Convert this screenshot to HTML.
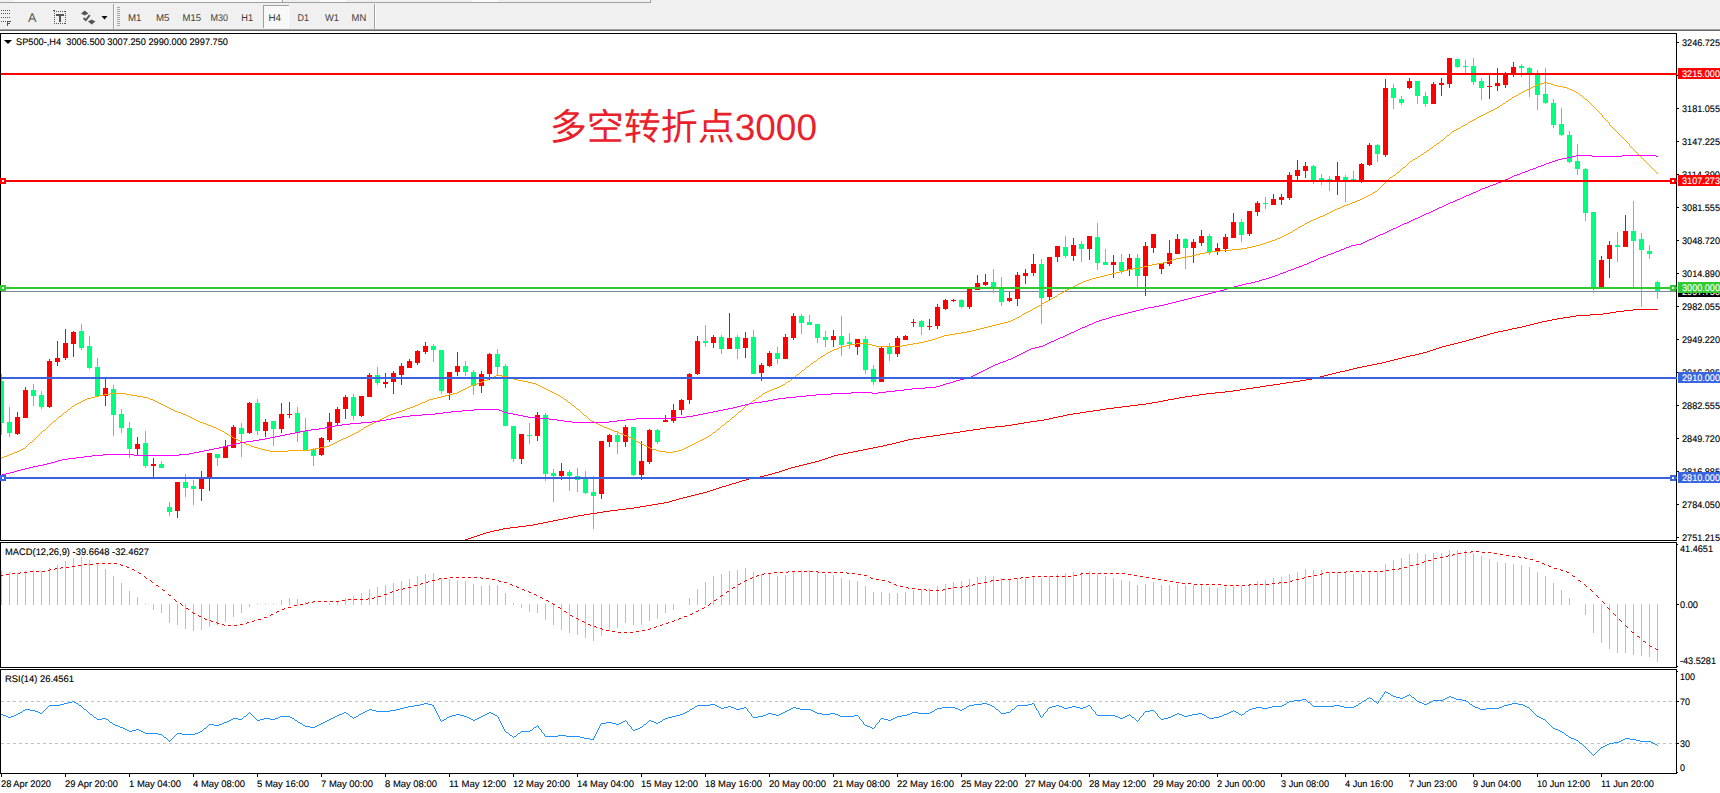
<!DOCTYPE html>
<html lang="zh"><head><meta charset="utf-8"><title>SP500-,H4</title>
<style>html,body{margin:0;padding:0;background:#fff}body{width:1720px;height:793px;overflow:hidden;position:relative}svg{position:absolute;left:0;top:0;display:block}text{font-family:"Liberation Sans","Noto Sans CJK SC",sans-serif;white-space:pre}.cj{font-family:"Liberation Sans","Noto Sans CJK SC",sans-serif}</style>
</head><body>
<svg width="1720" height="793" viewBox="0 0 1720 793" shape-rendering="crispEdges" text-rendering="geometricPrecision">
<rect x="0" y="0" width="1720" height="793" fill="#fff"/>
<rect x="0" y="0" width="1720" height="29" fill="#f0f0f0"/>
<rect x="0" y="29" width="1720" height="1" fill="#a0a0a0"/>
<rect x="0" y="30" width="1720" height="1" fill="#696969"/>
<rect x="0" y="31" width="1720" height="2" fill="#ffffff"/>
<rect x="0" y="2" width="650" height="1" fill="#a0a0a0"/>
<rect x="0" y="0" width="650" height="2" fill="#f0f0f0"/>
<rect x="13" y="0" width="269" height="2" fill="#f9f9f9"/>
<rect x="282" y="0" width="1" height="2" fill="#a0a0a0"/>
<rect x="320" y="0" width="26" height="2" fill="#fafafa"/>
<rect x="472" y="0" width="26" height="2" fill="#fafafa"/>
<rect x="650" y="0" width="1" height="3" fill="#a0a0a0"/>
<path d="M1 10h1v1h-1zM3 10h1v1h-1zM5 10h1v1h-1zM7 10h1v1h-1zM9 10h1v1h-1zM1 13h1v1h-1zM3 13h1v1h-1zM5 13h1v1h-1zM7 13h1v1h-1zM9 13h1v1h-1zM1 17h1v1h-1zM3 17h1v1h-1zM5 17h1v1h-1zM7 17h1v1h-1zM9 17h1v1h-1zM1 21h1v1h-1zM3 21h1v1h-1zM5 21h1v1h-1z" fill="#555555"/>
<path d="M7 21h4v1h-3v1h2v1h-2v2h-1z" fill="#555555"/>
<text x="27.9" y="22" font-size="12.6" fill="#555">A</text>
<path d="M54 11h1v1h-1zM54 23h1v1h-1zM56 11h1v1h-1zM56 23h1v1h-1zM58 11h1v1h-1zM58 23h1v1h-1zM60 11h1v1h-1zM60 23h1v1h-1zM62 11h1v1h-1zM62 23h1v1h-1zM64 11h1v1h-1zM64 23h1v1h-1zM54 13h1v1h-1zM65 13h1v1h-1zM54 15h1v1h-1zM65 15h1v1h-1zM54 17h1v1h-1zM65 17h1v1h-1zM54 19h1v1h-1zM65 19h1v1h-1zM54 21h1v1h-1zM65 21h1v1h-1zM65 11h1v1h-1zM65 23h1v1h-1z" fill="#555555"/>
<path d="M56 14h8v2h-3v6h-2v-6h-3z" fill="#555555"/>
<path d="M53 10h2v1h-2z" fill="#555555"/>
<path d="M81 13.5l3.7-3 3.7 3-3.7 2z M88 21.5l3.7-2 3.7 2-3.7 3z" fill="#555555" shape-rendering="auto"/>
<path d="M83.6 18l2.2 2.2 4-5" fill="none" stroke="#555555" stroke-width="1.9" shape-rendering="auto"/>
<path d="M101.5 16h6l-3 3.4z" fill="#000" shape-rendering="auto"/>
<rect x="113" y="4" width="1" height="25" fill="#a0a0a0"/>
<rect x="114" y="4" width="1" height="25" fill="#ffffff"/>
<rect x="374" y="4" width="1" height="25" fill="#a0a0a0"/>
<rect x="375" y="4" width="1" height="25" fill="#ffffff"/>
<path d="M117 7h3v1h-3zM117 9h3v1h-3zM117 11h3v1h-3zM117 13h3v1h-3zM117 15h3v1h-3zM117 17h3v1h-3zM117 19h3v1h-3zM117 21h3v1h-3zM117 23h3v1h-3zM117 25h3v1h-3z" fill="#a8a8a8"/>
<rect x="263" y="5" width="26" height="23" fill="#f8f8f8"/>
<rect x="263" y="5" width="26" height="1" fill="#a0a0a0"/>
<rect x="263" y="5" width="1" height="23" fill="#a0a0a0"/>
<rect x="288" y="6" width="1" height="22" fill="#ffffff"/>
<rect x="264" y="27" width="25" height="1" fill="#ffffff"/>
<text x="128" y="21.2" font-size="9.8" fill="#3c3c3c" textLength="13.5" lengthAdjust="spacingAndGlyphs">M1</text>
<text x="156" y="21.2" font-size="9.8" fill="#3c3c3c" textLength="13.5" lengthAdjust="spacingAndGlyphs">M5</text>
<text x="182.5" y="21.2" font-size="9.8" fill="#3c3c3c" textLength="18.5" lengthAdjust="spacingAndGlyphs">M15</text>
<text x="210.6" y="21.2" font-size="9.8" fill="#3c3c3c" textLength="17.5" lengthAdjust="spacingAndGlyphs">M30</text>
<text x="241.3" y="21.2" font-size="9.8" fill="#3c3c3c" textLength="11.8" lengthAdjust="spacingAndGlyphs">H1</text>
<text x="268.5" y="21.2" font-size="9.8" fill="#3c3c3c" textLength="12.5" lengthAdjust="spacingAndGlyphs">H4</text>
<text x="297.5" y="21.2" font-size="9.8" fill="#3c3c3c" textLength="11.5" lengthAdjust="spacingAndGlyphs">D1</text>
<text x="325" y="21.2" font-size="9.8" fill="#3c3c3c" textLength="14" lengthAdjust="spacingAndGlyphs">W1</text>
<text x="351.6" y="21.2" font-size="9.8" fill="#3c3c3c" textLength="14.7" lengthAdjust="spacingAndGlyphs">MN</text>
<rect x="0" y="33" width="1677" height="1" fill="#000"/>
<rect x="0" y="33" width="1" height="508" fill="#000"/>
<rect x="1676" y="33" width="1" height="508" fill="#000"/>
<rect x="0" y="540" width="1677" height="1" fill="#000"/>
<rect x="0" y="542" width="1677" height="1" fill="#000"/>
<rect x="0" y="542" width="1" height="126" fill="#000"/>
<rect x="1676" y="542" width="1" height="126" fill="#000"/>
<rect x="0" y="667" width="1677" height="1" fill="#000"/>
<rect x="0" y="669" width="1677" height="1" fill="#000"/>
<rect x="0" y="669" width="1" height="105" fill="#000"/>
<rect x="1676" y="669" width="1" height="105" fill="#000"/>
<rect x="0" y="773" width="1677" height="1" fill="#000"/>
<defs><clipPath id="cm"><rect x="1" y="34" width="1675" height="506"/></clipPath><clipPath id="cd"><rect x="1" y="543" width="1675" height="124"/></clipPath><clipPath id="cr"><rect x="1" y="670" width="1675" height="103"/></clipPath></defs>
<g clip-path="url(#cm)">
<rect x="1" y="291" width="1675" height="1" fill="#778899"/>
<path d="M1 374h1v61h-1zM-1 381h5v42h-5z" fill="#00ff7f"/>
<path d="M9 407h1v30h-1zM7 422h5v11h-5z" fill="#00ff7f"/>
<path d="M17 412h1v23h-1zM15 417h5v17h-5z" fill="#ff0000"/>
<path d="M25 387h1v31h-1zM23 390h5v28h-5z" fill="#ff0000"/>
<path d="M33 384h1v22h-1zM31 390h5v6h-5z" fill="#00ff7f"/>
<path d="M41 391h1v18h-1zM39 395h5v12h-5z" fill="#00ff7f"/>
<path d="M49 359h1v49h-1zM47 361h5v46h-5z" fill="#ff0000"/>
<path d="M57 341h1v25h-1zM55 358h5v4h-5z" fill="#ff0000"/>
<path d="M65 329h1v31h-1zM63 343h5v15h-5z" fill="#ff0000"/>
<path d="M73 331h1v26h-1zM71 332h5v12h-5z" fill="#ff0000"/>
<path d="M81 324h1v26h-1zM79 331h5v17h-5z" fill="#00ff7f"/>
<path d="M89 336h1v33h-1zM87 346h5v22h-5z" fill="#00ff7f"/>
<path d="M97 358h1v38h-1zM95 367h5v29h-5z" fill="#00ff7f"/>
<path d="M105 379h1v27h-1zM103 388h5v8h-5z" fill="#ff0000"/>
<path d="M113 385h1v51h-1zM111 389h5v26h-5z" fill="#00ff7f"/>
<path d="M121 409h1v24h-1zM119 414h5v14h-5z" fill="#00ff7f"/>
<path d="M129 422h1v36h-1zM127 428h5v21h-5z" fill="#00ff7f"/>
<path d="M137 437h1v19h-1zM135 444h5v5h-5z" fill="#ff0000"/>
<path d="M145 431h1v37h-1zM143 443h5v23h-5z" fill="#00ff7f"/>
<path d="M153 458h1v19h-1zM151 464h5v2h-5z" fill="#ff0000"/>
<path d="M161 461h1v7h-1zM159 464h5v4h-5z" fill="#00ff7f"/>
<path d="M169 502h1v14h-1zM167 507h5v5h-5z" fill="#00ff7f"/>
<path d="M177 482h1v36h-1zM175 482h5v29h-5z" fill="#ff0000"/>
<path d="M185 474h1v23h-1zM183 482h5v6h-5z" fill="#00ff7f"/>
<path d="M193 480h1v25h-1zM191 486h5v3h-5z" fill="#00ff7f"/>
<path d="M201 471h1v30h-1zM199 478h5v11h-5z" fill="#ff0000"/>
<path d="M209 453h1v38h-1zM207 453h5v25h-5z" fill="#ff0000"/>
<path d="M217 454h1v12h-1zM215 454h5v4h-5z" fill="#00ff7f"/>
<path d="M225 440h1v18h-1zM223 446h5v12h-5z" fill="#ff0000"/>
<path d="M233 425h1v23h-1zM231 427h5v21h-5z" fill="#ff0000"/>
<path d="M241 423h1v34h-1zM239 428h5v6h-5z" fill="#00ff7f"/>
<path d="M249 402h1v32h-1zM247 403h5v30h-5z" fill="#ff0000"/>
<path d="M257 399h1v36h-1zM255 403h5v28h-5z" fill="#00ff7f"/>
<path d="M265 419h1v18h-1zM263 422h5v9h-5z" fill="#ff0000"/>
<path d="M273 421h1v25h-1zM271 421h5v8h-5z" fill="#00ff7f"/>
<path d="M281 403h1v30h-1zM279 414h5v15h-5z" fill="#ff0000"/>
<path d="M289 402h1v16h-1zM287 414h5v1h-5z" fill="#ff0000"/>
<path d="M297 407h1v35h-1zM295 413h5v19h-5z" fill="#00ff7f"/>
<path d="M305 418h1v32h-1zM303 431h5v19h-5z" fill="#00ff7f"/>
<path d="M313 448h1v18h-1zM311 449h5v7h-5z" fill="#00ff7f"/>
<path d="M321 437h1v19h-1zM319 438h5v17h-5z" fill="#ff0000"/>
<path d="M329 413h1v29h-1zM327 422h5v18h-5z" fill="#ff0000"/>
<path d="M337 407h1v19h-1zM335 409h5v14h-5z" fill="#ff0000"/>
<path d="M345 395h1v24h-1zM343 397h5v12h-5z" fill="#ff0000"/>
<path d="M353 394h1v26h-1zM351 397h5v19h-5z" fill="#00ff7f"/>
<path d="M361 396h1v21h-1zM359 396h5v20h-5z" fill="#ff0000"/>
<path d="M369 373h1v24h-1zM367 375h5v22h-5z" fill="#ff0000"/>
<path d="M377 367h1v18h-1zM375 375h5v8h-5z" fill="#00ff7f"/>
<path d="M385 373h1v15h-1zM383 382h5v2h-5z" fill="#ff0000"/>
<path d="M393 371h1v23h-1zM391 373h5v9h-5z" fill="#ff0000"/>
<path d="M401 363h1v22h-1zM399 366h5v9h-5z" fill="#ff0000"/>
<path d="M409 359h1v9h-1zM407 361h5v7h-5z" fill="#ff0000"/>
<path d="M417 350h1v15h-1zM415 351h5v12h-5z" fill="#ff0000"/>
<path d="M425 342h1v12h-1zM423 346h5v6h-5z" fill="#ff0000"/>
<path d="M433 344h1v18h-1zM431 346h5v4h-5z" fill="#00ff7f"/>
<path d="M441 350h1v44h-1zM439 350h5v41h-5z" fill="#00ff7f"/>
<path d="M449 372h1v28h-1zM447 372h5v21h-5z" fill="#ff0000"/>
<path d="M457 352h1v24h-1zM455 366h5v6h-5z" fill="#ff0000"/>
<path d="M465 361h1v15h-1zM463 366h5v6h-5z" fill="#00ff7f"/>
<path d="M473 370h1v25h-1zM471 372h5v14h-5z" fill="#00ff7f"/>
<path d="M481 371h1v22h-1zM479 374h5v12h-5z" fill="#ff0000"/>
<path d="M489 353h1v27h-1zM487 354h5v20h-5z" fill="#ff0000"/>
<path d="M497 349h1v26h-1zM495 354h5v13h-5z" fill="#00ff7f"/>
<path d="M505 364h1v62h-1zM503 366h5v60h-5z" fill="#00ff7f"/>
<path d="M513 426h1v36h-1zM511 426h5v33h-5z" fill="#00ff7f"/>
<path d="M521 434h1v30h-1zM519 434h5v25h-5z" fill="#ff0000"/>
<path d="M529 423h1v21h-1zM527 435h5v1h-5z" fill="#00ff7f"/>
<path d="M537 412h1v29h-1zM535 415h5v21h-5z" fill="#ff0000"/>
<path d="M545 413h1v68h-1zM543 415h5v59h-5z" fill="#00ff7f"/>
<path d="M553 469h1v33h-1zM551 473h5v3h-5z" fill="#00ff7f"/>
<path d="M561 463h1v17h-1zM559 471h5v5h-5z" fill="#ff0000"/>
<path d="M569 470h1v21h-1zM567 472h5v4h-5z" fill="#00ff7f"/>
<path d="M577 468h1v24h-1zM575 476h5v4h-5z" fill="#00ff7f"/>
<path d="M585 471h1v23h-1zM583 478h5v15h-5z" fill="#00ff7f"/>
<path d="M593 476h1v53h-1zM591 492h5v4h-5z" fill="#00ff7f"/>
<path d="M601 441h1v58h-1zM599 441h5v53h-5z" fill="#ff0000"/>
<path d="M609 434h1v13h-1zM607 435h5v7h-5z" fill="#ff0000"/>
<path d="M617 431h1v23h-1zM615 435h5v7h-5z" fill="#00ff7f"/>
<path d="M625 425h1v22h-1zM623 427h5v15h-5z" fill="#ff0000"/>
<path d="M633 427h1v49h-1zM631 427h5v48h-5z" fill="#00ff7f"/>
<path d="M641 441h1v39h-1zM639 461h5v14h-5z" fill="#ff0000"/>
<path d="M649 429h1v35h-1zM647 430h5v32h-5z" fill="#ff0000"/>
<path d="M657 429h1v15h-1zM655 430h5v12h-5z" fill="#00ff7f"/>
<path d="M665 415h1v7h-1zM663 420h5v2h-5z" fill="#ff0000"/>
<path d="M673 404h1v19h-1zM671 410h5v11h-5z" fill="#ff0000"/>
<path d="M681 399h1v16h-1zM679 400h5v10h-5z" fill="#ff0000"/>
<path d="M689 373h1v31h-1zM687 374h5v26h-5z" fill="#ff0000"/>
<path d="M697 336h1v39h-1zM695 341h5v33h-5z" fill="#ff0000"/>
<path d="M705 325h1v22h-1zM703 341h5v2h-5z" fill="#00ff7f"/>
<path d="M713 335h1v13h-1zM711 337h5v6h-5z" fill="#ff0000"/>
<path d="M721 335h1v19h-1zM719 337h5v12h-5z" fill="#00ff7f"/>
<path d="M729 313h1v36h-1zM727 338h5v11h-5z" fill="#ff0000"/>
<path d="M737 335h1v24h-1zM735 337h5v12h-5z" fill="#00ff7f"/>
<path d="M745 332h1v26h-1zM743 338h5v10h-5z" fill="#ff0000"/>
<path d="M753 330h1v44h-1zM751 337h5v37h-5z" fill="#00ff7f"/>
<path d="M761 363h1v18h-1zM759 365h5v8h-5z" fill="#ff0000"/>
<path d="M769 351h1v16h-1zM767 353h5v13h-5z" fill="#ff0000"/>
<path d="M777 347h1v17h-1zM775 353h5v6h-5z" fill="#00ff7f"/>
<path d="M785 334h1v25h-1zM783 337h5v22h-5z" fill="#ff0000"/>
<path d="M793 313h1v27h-1zM791 316h5v22h-5z" fill="#ff0000"/>
<path d="M801 314h1v20h-1zM799 316h5v7h-5z" fill="#00ff7f"/>
<path d="M809 315h1v10h-1zM807 322h5v3h-5z" fill="#00ff7f"/>
<path d="M817 324h1v19h-1zM815 324h5v14h-5z" fill="#00ff7f"/>
<path d="M825 331h1v16h-1zM823 337h5v3h-5z" fill="#00ff7f"/>
<path d="M833 330h1v17h-1zM831 336h5v4h-5z" fill="#ff0000"/>
<path d="M841 316h1v40h-1zM839 336h5v9h-5z" fill="#00ff7f"/>
<path d="M849 333h1v16h-1zM847 342h5v2h-5z" fill="#00ff7f"/>
<path d="M857 339h1v16h-1zM855 339h5v8h-5z" fill="#ff0000"/>
<path d="M865 336h1v38h-1zM863 339h5v31h-5z" fill="#00ff7f"/>
<path d="M873 365h1v20h-1zM871 369h5v13h-5z" fill="#00ff7f"/>
<path d="M881 346h1v36h-1zM879 348h5v34h-5z" fill="#ff0000"/>
<path d="M889 343h1v18h-1zM887 346h5v8h-5z" fill="#00ff7f"/>
<path d="M897 336h1v21h-1zM895 338h5v16h-5z" fill="#ff0000"/>
<path d="M905 335h1v5h-1zM903 336h5v4h-5z" fill="#ff0000"/>
<path d="M913 319h1v8h-1zM911 322h5v1h-5z" fill="#ff0000"/>
<path d="M921 320h1v15h-1zM919 321h5v6h-5z" fill="#00ff7f"/>
<path d="M929 319h1v11h-1zM927 326h5v1h-5z" fill="#ff0000"/>
<path d="M937 304h1v25h-1zM935 307h5v19h-5z" fill="#ff0000"/>
<path d="M945 299h1v11h-1zM943 300h5v9h-5z" fill="#ff0000"/>
<path d="M953 299h1v3h-1zM951 300h5v1h-5z" fill="#ff0000"/>
<path d="M961 299h1v9h-1zM959 300h5v7h-5z" fill="#00ff7f"/>
<path d="M969 289h1v20h-1zM967 289h5v18h-5z" fill="#ff0000"/>
<path d="M977 275h1v15h-1zM975 283h5v7h-5z" fill="#ff0000"/>
<path d="M985 274h1v12h-1zM983 282h5v3h-5z" fill="#ff0000"/>
<path d="M993 269h1v24h-1zM991 282h5v6h-5z" fill="#00ff7f"/>
<path d="M1001 277h1v29h-1zM999 289h5v13h-5z" fill="#00ff7f"/>
<path d="M1009 292h1v10h-1zM1007 298h5v3h-5z" fill="#ff0000"/>
<path d="M1017 272h1v34h-1zM1015 275h5v24h-5z" fill="#ff0000"/>
<path d="M1025 269h1v15h-1zM1023 273h5v3h-5z" fill="#ff0000"/>
<path d="M1033 254h1v22h-1zM1031 264h5v9h-5z" fill="#ff0000"/>
<path d="M1041 259h1v65h-1zM1039 264h5v34h-5z" fill="#00ff7f"/>
<path d="M1049 257h1v43h-1zM1047 257h5v40h-5z" fill="#ff0000"/>
<path d="M1057 246h1v16h-1zM1055 246h5v11h-5z" fill="#ff0000"/>
<path d="M1065 236h1v22h-1zM1063 247h5v9h-5z" fill="#00ff7f"/>
<path d="M1073 238h1v23h-1zM1071 245h5v11h-5z" fill="#ff0000"/>
<path d="M1081 241h1v21h-1zM1079 244h5v5h-5z" fill="#00ff7f"/>
<path d="M1089 236h1v24h-1zM1087 236h5v13h-5z" fill="#ff0000"/>
<path d="M1097 223h1v47h-1zM1095 237h5v26h-5z" fill="#00ff7f"/>
<path d="M1105 249h1v16h-1zM1103 262h5v3h-5z" fill="#00ff7f"/>
<path d="M1113 255h1v23h-1zM1111 262h5v3h-5z" fill="#ff0000"/>
<path d="M1121 254h1v20h-1zM1119 262h5v9h-5z" fill="#00ff7f"/>
<path d="M1129 254h1v22h-1zM1127 258h5v12h-5z" fill="#ff0000"/>
<path d="M1137 254h1v34h-1zM1135 258h5v18h-5z" fill="#00ff7f"/>
<path d="M1145 242h1v54h-1zM1143 246h5v30h-5z" fill="#ff0000"/>
<path d="M1153 234h1v19h-1zM1151 234h5v14h-5z" fill="#ff0000"/>
<path d="M1161 263h1v11h-1zM1159 263h5v6h-5z" fill="#ff0000"/>
<path d="M1169 240h1v26h-1zM1167 253h5v11h-5z" fill="#ff0000"/>
<path d="M1177 234h1v20h-1zM1175 239h5v15h-5z" fill="#ff0000"/>
<path d="M1185 238h1v31h-1zM1183 239h5v9h-5z" fill="#00ff7f"/>
<path d="M1193 239h1v24h-1zM1191 242h5v6h-5z" fill="#ff0000"/>
<path d="M1201 230h1v16h-1zM1199 236h5v7h-5z" fill="#ff0000"/>
<path d="M1209 234h1v21h-1zM1207 236h5v16h-5z" fill="#00ff7f"/>
<path d="M1217 243h1v12h-1zM1215 248h5v3h-5z" fill="#ff0000"/>
<path d="M1225 234h1v18h-1zM1223 237h5v12h-5z" fill="#ff0000"/>
<path d="M1233 213h1v25h-1zM1231 222h5v16h-5z" fill="#ff0000"/>
<path d="M1241 219h1v23h-1zM1239 222h5v13h-5z" fill="#00ff7f"/>
<path d="M1249 211h1v25h-1zM1247 211h5v23h-5z" fill="#ff0000"/>
<path d="M1257 201h1v15h-1zM1255 203h5v9h-5z" fill="#ff0000"/>
<path d="M1265 197h1v12h-1zM1263 203h5v1h-5z" fill="#00ff7f"/>
<path d="M1273 194h1v11h-1zM1271 199h5v6h-5z" fill="#ff0000"/>
<path d="M1281 194h1v11h-1zM1279 197h5v3h-5z" fill="#ff0000"/>
<path d="M1289 172h1v28h-1zM1287 175h5v23h-5z" fill="#ff0000"/>
<path d="M1297 160h1v20h-1zM1295 170h5v6h-5z" fill="#ff0000"/>
<path d="M1305 162h1v16h-1zM1303 166h5v5h-5z" fill="#ff0000"/>
<path d="M1313 165h1v19h-1zM1311 166h5v14h-5z" fill="#00ff7f"/>
<path d="M1321 174h1v11h-1zM1319 178h5v2h-5z" fill="#00ff7f"/>
<path d="M1329 176h1v15h-1zM1327 179h5v1h-5z" fill="#00ff7f"/>
<path d="M1337 162h1v33h-1zM1335 176h5v5h-5z" fill="#ff0000"/>
<path d="M1345 175h1v27h-1zM1343 177h5v4h-5z" fill="#00ff7f"/>
<path d="M1353 171h1v10h-1zM1351 179h5v1h-5z" fill="#00ff7f"/>
<path d="M1361 163h1v20h-1zM1359 164h5v18h-5z" fill="#ff0000"/>
<path d="M1369 143h1v23h-1zM1367 145h5v20h-5z" fill="#ff0000"/>
<path d="M1377 144h1v18h-1zM1375 145h5v9h-5z" fill="#00ff7f"/>
<path d="M1385 79h1v78h-1zM1383 88h5v67h-5z" fill="#ff0000"/>
<path d="M1393 84h1v25h-1zM1391 88h5v10h-5z" fill="#00ff7f"/>
<path d="M1401 96h1v9h-1zM1399 99h5v4h-5z" fill="#00ff7f"/>
<path d="M1409 78h1v11h-1zM1407 81h5v7h-5z" fill="#ff0000"/>
<path d="M1417 81h1v23h-1zM1415 81h5v15h-5z" fill="#00ff7f"/>
<path d="M1425 92h1v15h-1zM1423 96h5v8h-5z" fill="#00ff7f"/>
<path d="M1433 82h1v22h-1zM1431 84h5v20h-5z" fill="#ff0000"/>
<path d="M1441 78h1v18h-1zM1439 83h5v2h-5z" fill="#ff0000"/>
<path d="M1449 58h1v30h-1zM1447 58h5v26h-5z" fill="#ff0000"/>
<path d="M1457 59h1v9h-1zM1455 59h5v8h-5z" fill="#00ff7f"/>
<path d="M1465 60h1v13h-1zM1463 66h5v1h-5z" fill="#00ff7f"/>
<path d="M1473 58h1v27h-1zM1471 66h5v16h-5z" fill="#00ff7f"/>
<path d="M1481 78h1v22h-1zM1479 81h5v7h-5z" fill="#00ff7f"/>
<path d="M1489 75h1v24h-1zM1487 86h5v1h-5z" fill="#ff0000"/>
<path d="M1497 68h1v23h-1zM1495 83h5v3h-5z" fill="#ff0000"/>
<path d="M1505 72h1v16h-1zM1503 73h5v12h-5z" fill="#ff0000"/>
<path d="M1513 62h1v15h-1zM1511 67h5v7h-5z" fill="#ff0000"/>
<path d="M1521 64h1v13h-1zM1519 66h5v2h-5z" fill="#00ff7f"/>
<path d="M1529 67h1v30h-1zM1527 68h5v5h-5z" fill="#00ff7f"/>
<path d="M1537 70h1v40h-1zM1535 75h5v20h-5z" fill="#00ff7f"/>
<path d="M1545 68h1v36h-1zM1543 94h5v9h-5z" fill="#00ff7f"/>
<path d="M1553 99h1v29h-1zM1551 103h5v22h-5z" fill="#00ff7f"/>
<path d="M1561 108h1v28h-1zM1559 124h5v11h-5z" fill="#00ff7f"/>
<path d="M1569 131h1v32h-1zM1567 135h5v27h-5z" fill="#00ff7f"/>
<path d="M1577 144h1v31h-1zM1575 161h5v8h-5z" fill="#00ff7f"/>
<path d="M1585 168h1v53h-1zM1583 169h5v44h-5z" fill="#00ff7f"/>
<path d="M1593 212h1v81h-1zM1591 212h5v76h-5z" fill="#00ff7f"/>
<path d="M1601 256h1v31h-1zM1599 260h5v27h-5z" fill="#ff0000"/>
<path d="M1609 241h1v37h-1zM1607 245h5v14h-5z" fill="#ff0000"/>
<path d="M1617 232h1v30h-1zM1615 245h5v2h-5z" fill="#00ff7f"/>
<path d="M1625 215h1v32h-1zM1623 231h5v16h-5z" fill="#ff0000"/>
<path d="M1633 201h1v86h-1zM1631 231h5v10h-5z" fill="#00ff7f"/>
<path d="M1641 233h1v74h-1zM1639 239h5v11h-5z" fill="#00ff7f"/>
<path d="M1649 245h1v14h-1zM1647 251h5v3h-5z" fill="#00ff7f"/>
<path d="M1657 281h1v18h-1zM1655 282h5v9h-5z" fill="#00ff7f"/>
<path d="M1544 82h3v1h-3zM1541 83h3v1h-3zM1547 83h4v1h-4zM1537 84h4v1h-4zM1551 84h3v1h-3zM1535 85h2v1h-2zM1554 85h4v1h-4zM1533 86h2v1h-2zM1558 86h5v1h-5zM1531 87h2v1h-2zM1563 87h4v1h-4zM1529 88h2v1h-2zM1567 88h2v1h-2zM1527 89h2v1h-2zM1569 89h3v1h-3zM1525 90h2v1h-2zM1572 90h2v1h-2zM1523 91h2v1h-2zM1574 91h2v1h-2zM1521 92h2v1h-2zM1576 92h2v1h-2zM1519 93h2v1h-2zM1516 95h2v1h-2zM1580 95h2v1h-2zM1514 96h2v1h-2zM1512 97h2v1h-2zM1509 99h2v1h-2zM1585 99h2v1h-2zM1506 101h2v1h-2zM1503 103h2v1h-2zM1500 105h2v1h-2zM1497 107h2v1h-2zM1495 108h2v1h-2zM1493 109h2v1h-2zM1491 110h2v1h-2zM1489 111h2v1h-2zM1487 112h2v1h-2zM1485 113h2v1h-2zM1483 114h2v1h-2zM1481 115h2v1h-2zM1479 116h2v1h-2zM1477 117h2v1h-2zM1474 119h2v1h-2zM1472 120h2v1h-2zM1470 121h2v1h-2zM1468 122h2v1h-2zM1465 124h2v1h-2zM1463 125h2v1h-2zM1461 126h2v1h-2zM1458 128h2v1h-2zM1456 129h2v1h-2zM1454 130h2v1h-2zM1452 131h2v1h-2zM1447 135h2v1h-2zM1441 140h2v1h-2zM1437 143h2v1h-2zM1434 145h2v1h-2zM1430 148h2v1h-2zM1427 150h2v1h-2zM1424 152h2v1h-2zM1421 154h2v1h-2zM1418 156h2v1h-2zM1415 158h2v1h-2zM1413 159h2v1h-2zM1410 161h2v1h-2zM1403 167h2v1h-2zM1397 172h2v1h-2zM1393 175h2v1h-2zM1390 177h2v1h-2zM1375 191h2v1h-2zM1373 192h2v1h-2zM1370 194h2v1h-2zM1368 195h2v1h-2zM1366 196h2v1h-2zM1364 197h2v1h-2zM1362 198h2v1h-2zM1360 199h2v1h-2zM1357 200h3v1h-3zM1355 201h2v1h-2zM1352 202h3v1h-3zM1350 203h2v1h-2zM1347 204h3v1h-3zM1344 205h3v1h-3zM1342 206h2v1h-2zM1340 207h2v1h-2zM1337 208h3v1h-3zM1335 209h2v1h-2zM1333 210h2v1h-2zM1331 211h2v1h-2zM1329 212h2v1h-2zM1327 213h2v1h-2zM1325 214h2v1h-2zM1323 215h2v1h-2zM1320 216h3v1h-3zM1318 217h2v1h-2zM1316 218h2v1h-2zM1313 219h3v1h-3zM1311 220h2v1h-2zM1309 221h2v1h-2zM1307 222h2v1h-2zM1305 223h2v1h-2zM1302 225h2v1h-2zM1300 226h2v1h-2zM1298 227h2v1h-2zM1295 229h2v1h-2zM1293 230h2v1h-2zM1290 232h2v1h-2zM1288 233h2v1h-2zM1286 234h2v1h-2zM1284 235h2v1h-2zM1282 236h2v1h-2zM1280 237h2v1h-2zM1277 238h3v1h-3zM1275 239h2v1h-2zM1272 240h3v1h-3zM1269 241h3v1h-3zM1266 242h3v1h-3zM1263 243h3v1h-3zM1260 244h3v1h-3zM1256 245h4v1h-4zM1252 246h4v1h-4zM1247 247h5v1h-5zM1241 248h6v1h-6zM1232 249h9v1h-9zM1220 250h12v1h-12zM1211 251h9v1h-9zM1205 252h6v1h-6zM1200 253h5v1h-5zM1196 254h4v1h-4zM1192 255h4v1h-4zM1187 256h5v1h-5zM1181 257h6v1h-6zM1176 258h5v1h-5zM1173 259h3v1h-3zM1170 260h3v1h-3zM1167 261h3v1h-3zM1163 262h4v1h-4zM1157 263h6v1h-6zM1152 264h5v1h-5zM1148 265h4v1h-4zM1144 266h4v1h-4zM1139 267h5v1h-5zM1133 268h6v1h-6zM1128 269h5v1h-5zM1124 270h4v1h-4zM1120 271h4v1h-4zM1116 272h4v1h-4zM1112 273h4v1h-4zM1108 274h4v1h-4zM1104 275h4v1h-4zM1100 276h4v1h-4zM1096 277h4v1h-4zM1092 278h4v1h-4zM1089 279h3v1h-3zM1086 280h3v1h-3zM1083 281h3v1h-3zM1081 282h2v1h-2zM1079 283h2v1h-2zM1077 284h2v1h-2zM1075 285h2v1h-2zM1073 286h2v1h-2zM1071 287h2v1h-2zM1069 288h2v1h-2zM1067 289h2v1h-2zM1065 290h2v1h-2zM1062 292h2v1h-2zM1060 293h2v1h-2zM1058 294h2v1h-2zM1055 296h2v1h-2zM1053 297h2v1h-2zM1051 298h2v1h-2zM1048 300h2v1h-2zM1046 301h2v1h-2zM1044 302h2v1h-2zM1042 303h2v1h-2zM1039 305h2v1h-2zM1037 306h2v1h-2zM1035 307h2v1h-2zM1033 308h2v1h-2zM1030 310h2v1h-2zM1028 311h2v1h-2zM1026 312h2v1h-2zM1024 313h2v1h-2zM1022 314h2v1h-2zM1019 316h2v1h-2zM1017 317h2v1h-2zM1015 318h2v1h-2zM1013 319h2v1h-2zM1011 320h2v1h-2zM1008 321h3v1h-3zM1004 322h4v1h-4zM1000 323h4v1h-4zM996 324h4v1h-4zM992 325h4v1h-4zM988 326h4v1h-4zM984 327h4v1h-4zM980 328h4v1h-4zM976 329h4v1h-4zM972 330h4v1h-4zM967 331h5v1h-5zM961 332h6v1h-6zM955 333h6v1h-6zM949 334h6v1h-6zM944 335h5v1h-5zM941 336h3v1h-3zM938 337h3v1h-3zM935 338h3v1h-3zM932 339h3v1h-3zM928 340h4v1h-4zM924 341h4v1h-4zM919 342h5v1h-5zM856 343h12v1h-12zM913 343h6v1h-6zM849 344h7v1h-7zM868 344h4v1h-4zM907 344h6v1h-6zM846 345h3v1h-3zM872 345h4v1h-4zM902 345h5v1h-5zM842 346h4v1h-4zM876 346h26v1h-26zM839 347h3v1h-3zM837 348h2v1h-2zM834 349h3v1h-3zM832 350h2v1h-2zM830 351h2v1h-2zM828 352h2v1h-2zM826 353h2v1h-2zM823 355h2v1h-2zM821 356h2v1h-2zM818 358h2v1h-2zM814 361h2v1h-2zM811 363h2v1h-2zM807 366h2v1h-2zM802 370h2v1h-2zM797 374h2v1h-2zM496 375h6v1h-6zM494 376h2v1h-2zM502 376h5v1h-5zM492 377h2v1h-2zM507 377h4v1h-4zM489 378h3v1h-3zM511 378h3v1h-3zM792 378h2v1h-2zM487 379h2v1h-2zM514 379h4v1h-4zM484 380h3v1h-3zM518 380h5v1h-5zM482 381h2v1h-2zM523 381h5v1h-5zM788 381h2v1h-2zM479 382h3v1h-3zM528 382h4v1h-4zM786 382h2v1h-2zM477 383h2v1h-2zM532 383h4v1h-4zM474 384h3v1h-3zM536 384h2v1h-2zM783 384h2v1h-2zM471 385h3v1h-3zM538 385h2v1h-2zM781 385h2v1h-2zM469 386h2v1h-2zM540 386h2v1h-2zM779 386h2v1h-2zM467 387h2v1h-2zM542 387h2v1h-2zM777 387h2v1h-2zM465 388h2v1h-2zM544 388h2v1h-2zM774 388h3v1h-3zM463 389h2v1h-2zM546 389h2v1h-2zM772 389h2v1h-2zM461 390h2v1h-2zM548 390h2v1h-2zM769 390h3v1h-3zM459 391h2v1h-2zM550 391h2v1h-2zM767 391h2v1h-2zM457 392h2v1h-2zM552 392h2v1h-2zM765 392h2v1h-2zM110 393h16v1h-16zM453 393h4v1h-4zM554 393h2v1h-2zM763 393h2v1h-2zM104 394h6v1h-6zM126 394h5v1h-5zM449 394h4v1h-4zM556 394h2v1h-2zM99 395h5v1h-5zM131 395h6v1h-6zM445 395h4v1h-4zM558 395h2v1h-2zM95 396h4v1h-4zM137 396h6v1h-6zM441 396h4v1h-4zM759 396h2v1h-2zM91 397h4v1h-4zM143 397h5v1h-5zM437 397h4v1h-4zM561 397h2v1h-2zM87 398h4v1h-4zM148 398h2v1h-2zM433 398h4v1h-4zM756 398h2v1h-2zM85 399h2v1h-2zM150 399h3v1h-3zM429 399h4v1h-4zM564 399h2v1h-2zM83 400h2v1h-2zM153 400h2v1h-2zM427 400h2v1h-2zM753 400h2v1h-2zM81 401h2v1h-2zM155 401h2v1h-2zM425 401h2v1h-2zM79 402h2v1h-2zM157 402h2v1h-2zM422 402h3v1h-3zM568 402h2v1h-2zM77 403h2v1h-2zM159 403h2v1h-2zM420 403h2v1h-2zM749 403h2v1h-2zM75 404h2v1h-2zM161 404h2v1h-2zM418 404h2v1h-2zM163 405h2v1h-2zM415 405h3v1h-3zM572 405h2v1h-2zM746 405h2v1h-2zM72 406h2v1h-2zM165 406h2v1h-2zM413 406h2v1h-2zM167 407h2v1h-2zM410 407h3v1h-3zM169 408h2v1h-2zM407 408h3v1h-3zM68 409h2v1h-2zM171 409h2v1h-2zM405 409h2v1h-2zM577 409h2v1h-2zM173 410h2v1h-2zM402 410h3v1h-3zM175 411h3v1h-3zM399 411h3v1h-3zM739 411h2v1h-2zM64 412h2v1h-2zM178 412h3v1h-3zM396 412h3v1h-3zM181 413h2v1h-2zM393 413h3v1h-3zM183 414h3v1h-3zM390 414h3v1h-3zM186 415h2v1h-2zM388 415h2v1h-2zM584 415h2v1h-2zM59 416h2v1h-2zM188 416h2v1h-2zM386 416h2v1h-2zM190 417h2v1h-2zM384 417h2v1h-2zM732 417h2v1h-2zM192 418h2v1h-2zM382 418h2v1h-2zM194 419h2v1h-2zM380 419h2v1h-2zM196 420h2v1h-2zM378 420h2v1h-2zM590 420h2v1h-2zM53 421h2v1h-2zM198 421h2v1h-2zM376 421h2v1h-2zM592 421h2v1h-2zM727 421h2v1h-2zM200 422h3v1h-3zM374 422h2v1h-2zM594 422h2v1h-2zM203 423h3v1h-3zM372 423h2v1h-2zM596 423h2v1h-2zM206 424h2v1h-2zM370 424h2v1h-2zM598 424h2v1h-2zM208 425h3v1h-3zM368 425h2v1h-2zM600 425h2v1h-2zM722 425h2v1h-2zM211 426h2v1h-2zM366 426h2v1h-2zM602 426h2v1h-2zM213 427h3v1h-3zM364 427h2v1h-2zM604 427h3v1h-3zM216 428h2v1h-2zM607 428h2v1h-2zM218 429h2v1h-2zM361 429h2v1h-2zM609 429h3v1h-3zM717 429h2v1h-2zM43 430h2v1h-2zM220 430h2v1h-2zM359 430h2v1h-2zM612 430h2v1h-2zM222 431h2v1h-2zM614 431h3v1h-3zM356 432h2v1h-2zM617 432h2v1h-2zM713 432h2v1h-2zM225 433h2v1h-2zM354 433h2v1h-2zM619 433h3v1h-3zM227 434h2v1h-2zM352 434h2v1h-2zM622 434h2v1h-2zM350 435h2v1h-2zM624 435h3v1h-3zM709 435h2v1h-2zM230 436h2v1h-2zM348 436h2v1h-2zM627 436h2v1h-2zM232 437h2v1h-2zM346 437h2v1h-2zM629 437h2v1h-2zM706 437h2v1h-2zM234 438h2v1h-2zM343 438h3v1h-3zM631 438h2v1h-2zM704 438h2v1h-2zM236 439h2v1h-2zM341 439h2v1h-2zM633 439h2v1h-2zM702 439h2v1h-2zM238 440h2v1h-2zM339 440h2v1h-2zM700 440h2v1h-2zM240 441h2v1h-2zM337 441h2v1h-2zM636 441h2v1h-2zM698 441h2v1h-2zM30 442h2v1h-2zM242 442h2v1h-2zM335 442h2v1h-2zM638 442h2v1h-2zM696 442h2v1h-2zM244 443h2v1h-2zM333 443h2v1h-2zM640 443h2v1h-2zM694 443h2v1h-2zM246 444h3v1h-3zM331 444h2v1h-2zM642 444h2v1h-2zM692 444h2v1h-2zM249 445h2v1h-2zM329 445h2v1h-2zM644 445h2v1h-2zM690 445h2v1h-2zM251 446h3v1h-3zM325 446h4v1h-4zM646 446h2v1h-2zM688 446h2v1h-2zM254 447h4v1h-4zM320 447h5v1h-5zM648 447h2v1h-2zM686 447h2v1h-2zM23 448h2v1h-2zM258 448h3v1h-3zM315 448h5v1h-5zM650 448h2v1h-2zM684 448h2v1h-2zM21 449h2v1h-2zM261 449h4v1h-4zM310 449h5v1h-5zM652 449h4v1h-4zM682 449h2v1h-2zM19 450h2v1h-2zM265 450h5v1h-5zM288 450h22v1h-22zM656 450h3v1h-3zM678 450h4v1h-4zM17 451h2v1h-2zM270 451h18v1h-18zM659 451h7v1h-7zM673 451h5v1h-5zM14 452h3v1h-3zM666 452h7v1h-7zM12 453h2v1h-2zM9 454h3v1h-3zM7 455h2v1h-2zM4 456h3v1h-3zM2 457h2v1h-2zM0 458h2v1h-2zM25 447h1v1h-1zM26 446h1v1h-1zM27 445h1v1h-1zM28 444h1v1h-1zM29 443h1v1h-1zM32 441h1v1h-1zM33 440h1v1h-1zM34 439h1v1h-1zM35 438h1v1h-1zM36 437h1v1h-1zM37 436h1v1h-1zM38 435h1v1h-1zM39 434h1v1h-1zM40 433h1v1h-1zM41 432h1v1h-1zM42 431h1v1h-1zM45 429h1v1h-1zM46 428h1v1h-1zM47 427h1v1h-1zM48 426h1v1h-1zM49 425h1v1h-1zM50 424h1v1h-1zM51 423h1v1h-1zM52 422h1v1h-1zM55 420h1v1h-1zM56 419h1v1h-1zM57 418h1v1h-1zM58 417h1v1h-1zM61 415h1v1h-1zM62 414h1v1h-1zM63 413h1v1h-1zM66 411h1v1h-1zM67 410h1v1h-1zM70 408h1v1h-1zM71 407h1v1h-1zM74 405h1v1h-1zM224 432h1v1h-1zM229 435h1v1h-1zM358 431h1v1h-1zM363 428h1v1h-1zM560 396h1v1h-1zM563 398h1v1h-1zM566 400h1v1h-1zM567 401h1v1h-1zM570 403h1v1h-1zM571 404h1v1h-1zM574 406h1v1h-1zM575 407h1v1h-1zM576 408h1v1h-1zM579 410h1v1h-1zM580 411h1v1h-1zM581 412h1v1h-1zM582 413h1v1h-1zM583 414h1v1h-1zM586 416h1v1h-1zM587 417h1v1h-1zM588 418h1v1h-1zM589 419h1v1h-1zM635 440h1v1h-1zM708 436h1v1h-1zM711 434h1v1h-1zM712 433h1v1h-1zM715 431h1v1h-1zM716 430h1v1h-1zM719 428h1v1h-1zM720 427h1v1h-1zM721 426h1v1h-1zM724 424h1v1h-1zM725 423h1v1h-1zM726 422h1v1h-1zM729 420h1v1h-1zM730 419h1v1h-1zM731 418h1v1h-1zM734 416h1v1h-1zM735 415h1v1h-1zM736 414h1v1h-1zM737 413h1v1h-1zM738 412h1v1h-1zM741 410h1v1h-1zM742 409h1v1h-1zM743 408h1v1h-1zM744 407h1v1h-1zM745 406h1v1h-1zM748 404h1v1h-1zM751 402h1v1h-1zM752 401h1v1h-1zM755 399h1v1h-1zM758 397h1v1h-1zM761 395h1v1h-1zM762 394h1v1h-1zM785 383h1v1h-1zM790 380h1v1h-1zM791 379h1v1h-1zM794 377h1v1h-1zM795 376h1v1h-1zM796 375h1v1h-1zM799 373h1v1h-1zM800 372h1v1h-1zM801 371h1v1h-1zM804 369h1v1h-1zM805 368h1v1h-1zM806 367h1v1h-1zM809 365h1v1h-1zM810 364h1v1h-1zM813 362h1v1h-1zM816 360h1v1h-1zM817 359h1v1h-1zM820 357h1v1h-1zM825 354h1v1h-1zM1021 315h1v1h-1zM1032 309h1v1h-1zM1041 304h1v1h-1zM1050 299h1v1h-1zM1057 295h1v1h-1zM1064 291h1v1h-1zM1292 231h1v1h-1zM1297 228h1v1h-1zM1304 224h1v1h-1zM1372 193h1v1h-1zM1377 190h1v1h-1zM1378 189h1v1h-1zM1379 188h1v1h-1zM1380 187h1v1h-1zM1381 186h1v1h-1zM1382 185h1v1h-1zM1383 184h1v1h-1zM1384 183h1v1h-1zM1385 182h1v1h-1zM1386 181h1v1h-1zM1387 180h1v1h-1zM1388 179h1v1h-1zM1389 178h1v1h-1zM1392 176h1v1h-1zM1395 174h1v1h-1zM1396 173h1v1h-1zM1399 171h1v1h-1zM1400 170h1v1h-1zM1401 169h1v1h-1zM1402 168h1v1h-1zM1405 166h1v1h-1zM1406 165h1v1h-1zM1407 164h1v1h-1zM1408 163h1v1h-1zM1409 162h1v1h-1zM1412 160h1v1h-1zM1417 157h1v1h-1zM1420 155h1v1h-1zM1423 153h1v1h-1zM1426 151h1v1h-1zM1429 149h1v1h-1zM1432 147h1v1h-1zM1433 146h1v1h-1zM1436 144h1v1h-1zM1439 142h1v1h-1zM1440 141h1v1h-1zM1443 139h1v1h-1zM1444 138h1v1h-1zM1445 137h1v1h-1zM1446 136h1v1h-1zM1449 134h1v1h-1zM1450 133h1v1h-1zM1451 132h1v1h-1zM1460 127h1v1h-1zM1467 123h1v1h-1zM1476 118h1v1h-1zM1499 106h1v1h-1zM1502 104h1v1h-1zM1505 102h1v1h-1zM1508 100h1v1h-1zM1511 98h1v1h-1zM1518 94h1v1h-1zM1578 93h1v1h-1zM1579 94h1v1h-1zM1582 96h1v1h-1zM1583 97h1v1h-1zM1584 98h1v1h-1zM1587 100h1v1h-1zM1588 101h1v1h-1zM1589 102h1v1h-1zM1590 103h1v1h-1zM1591 104h1v1h-1zM1592 105h1v1h-1zM1593 106h1v1h-1zM1594 107h1v1h-1zM1595 108h1v1h-1zM1596 109h1v1h-1zM1597 110h1v1h-1zM1598 111h1v1h-1zM1599 112h1v1h-1zM1600 113h1v1h-1zM1601 114h1v1h-1zM1602 115h1v2h-1zM1603 117h1v1h-1zM1604 118h1v1h-1zM1605 119h1v1h-1zM1606 120h1v1h-1zM1607 121h1v1h-1zM1608 122h1v1h-1zM1609 123h1v2h-1zM1610 125h1v1h-1zM1611 126h1v1h-1zM1612 127h1v1h-1zM1613 128h1v1h-1zM1614 129h1v1h-1zM1615 130h1v1h-1zM1616 131h1v1h-1zM1617 132h1v1h-1zM1618 133h1v1h-1zM1619 134h1v1h-1zM1620 135h1v1h-1zM1621 136h1v1h-1zM1622 137h1v1h-1zM1623 138h1v1h-1zM1624 139h1v1h-1zM1625 140h1v1h-1zM1626 141h1v1h-1zM1627 142h1v1h-1zM1628 143h1v1h-1zM1629 144h1v2h-1zM1630 146h1v1h-1zM1631 147h1v1h-1zM1632 148h1v1h-1zM1633 149h1v1h-1zM1634 150h1v1h-1zM1635 151h1v1h-1zM1636 152h1v1h-1zM1637 153h1v1h-1zM1638 154h1v1h-1zM1639 155h1v1h-1zM1640 156h1v1h-1zM1641 157h1v1h-1zM1642 158h1v1h-1zM1643 159h1v1h-1zM1644 160h1v1h-1zM1645 161h1v1h-1zM1646 162h1v1h-1zM1647 163h1v1h-1zM1648 164h1v1h-1zM1649 165h1v1h-1zM1650 166h1v1h-1zM1651 167h1v1h-1zM1652 168h1v1h-1zM1653 169h1v1h-1zM1654 170h1v1h-1zM1655 171h1v1h-1zM1656 172h1v1h-1zM1657 173h1v1h-1z" fill="#ffa500"/>
<path d="M1576 155h16v1h-16zM1622 155h34v1h-34zM1572 156h4v1h-4zM1592 156h30v1h-30zM1656 156h2v1h-2zM1567 157h5v1h-5zM1562 158h5v1h-5zM1558 159h4v1h-4zM1555 160h3v1h-3zM1552 161h3v1h-3zM1549 162h3v1h-3zM1546 163h3v1h-3zM1544 164h2v1h-2zM1541 165h3v1h-3zM1538 166h3v1h-3zM1536 167h2v1h-2zM1533 168h3v1h-3zM1530 169h3v1h-3zM1528 170h2v1h-2zM1525 171h3v1h-3zM1522 172h3v1h-3zM1520 173h2v1h-2zM1517 174h3v1h-3zM1514 175h3v1h-3zM1512 176h2v1h-2zM1510 177h2v1h-2zM1508 178h2v1h-2zM1505 179h3v1h-3zM1503 180h2v1h-2zM1501 181h2v1h-2zM1498 182h3v1h-3zM1496 183h2v1h-2zM1493 184h3v1h-3zM1490 185h3v1h-3zM1488 186h2v1h-2zM1485 187h3v1h-3zM1482 188h3v1h-3zM1480 189h2v1h-2zM1478 190h2v1h-2zM1476 191h2v1h-2zM1473 192h3v1h-3zM1471 193h2v1h-2zM1469 194h2v1h-2zM1466 195h3v1h-3zM1464 196h2v1h-2zM1462 197h2v1h-2zM1460 198h2v1h-2zM1457 199h3v1h-3zM1455 200h2v1h-2zM1453 201h2v1h-2zM1450 202h3v1h-3zM1448 203h2v1h-2zM1446 204h2v1h-2zM1444 205h2v1h-2zM1442 206h2v1h-2zM1439 207h3v1h-3zM1437 208h2v1h-2zM1435 209h2v1h-2zM1433 210h2v1h-2zM1431 211h2v1h-2zM1429 212h2v1h-2zM1426 213h3v1h-3zM1424 214h2v1h-2zM1422 215h2v1h-2zM1420 216h2v1h-2zM1418 217h2v1h-2zM1415 218h3v1h-3zM1413 219h2v1h-2zM1411 220h2v1h-2zM1409 221h2v1h-2zM1407 222h2v1h-2zM1404 223h3v1h-3zM1402 224h2v1h-2zM1400 225h2v1h-2zM1398 226h2v1h-2zM1396 227h2v1h-2zM1393 228h3v1h-3zM1391 229h2v1h-2zM1389 230h2v1h-2zM1387 231h2v1h-2zM1385 232h2v1h-2zM1383 233h2v1h-2zM1380 234h3v1h-3zM1378 235h2v1h-2zM1376 236h2v1h-2zM1374 237h2v1h-2zM1372 238h2v1h-2zM1369 239h3v1h-3zM1367 240h2v1h-2zM1365 241h2v1h-2zM1363 242h2v1h-2zM1361 243h2v1h-2zM1356 244h5v1h-5zM1351 245h5v1h-5zM1349 246h2v1h-2zM1346 247h3v1h-3zM1344 248h2v1h-2zM1341 249h3v1h-3zM1339 250h2v1h-2zM1336 251h3v1h-3zM1334 252h2v1h-2zM1331 253h3v1h-3zM1328 254h3v1h-3zM1326 255h2v1h-2zM1323 256h3v1h-3zM1320 257h3v1h-3zM1318 258h2v1h-2zM1316 259h2v1h-2zM1314 260h2v1h-2zM1311 261h3v1h-3zM1309 262h2v1h-2zM1307 263h2v1h-2zM1304 264h3v1h-3zM1302 265h2v1h-2zM1299 266h3v1h-3zM1296 267h3v1h-3zM1294 268h2v1h-2zM1291 269h3v1h-3zM1288 270h3v1h-3zM1286 271h2v1h-2zM1283 272h3v1h-3zM1280 273h3v1h-3zM1278 274h2v1h-2zM1275 275h3v1h-3zM1272 276h3v1h-3zM1269 277h3v1h-3zM1266 278h3v1h-3zM1262 279h4v1h-4zM1259 280h3v1h-3zM1255 281h4v1h-4zM1251 282h4v1h-4zM1246 283h5v1h-5zM1242 284h4v1h-4zM1238 285h4v1h-4zM1234 286h4v1h-4zM1231 287h3v1h-3zM1227 288h4v1h-4zM1224 289h3v1h-3zM1220 290h4v1h-4zM1216 291h4v1h-4zM1212 292h4v1h-4zM1208 293h4v1h-4zM1204 294h4v1h-4zM1200 295h4v1h-4zM1196 296h4v1h-4zM1192 297h4v1h-4zM1188 298h4v1h-4zM1184 299h4v1h-4zM1180 300h4v1h-4zM1176 301h4v1h-4zM1172 302h4v1h-4zM1168 303h4v1h-4zM1164 304h4v1h-4zM1159 305h5v1h-5zM1154 306h5v1h-5zM1148 307h6v1h-6zM1144 308h4v1h-4zM1140 309h4v1h-4zM1136 310h4v1h-4zM1132 311h4v1h-4zM1128 312h4v1h-4zM1124 313h4v1h-4zM1120 314h4v1h-4zM1116 315h4v1h-4zM1112 316h4v1h-4zM1109 317h3v1h-3zM1106 318h3v1h-3zM1102 319h4v1h-4zM1099 320h3v1h-3zM1096 321h3v1h-3zM1094 322h2v1h-2zM1092 323h2v1h-2zM1089 324h3v1h-3zM1087 325h2v1h-2zM1085 326h2v1h-2zM1082 327h3v1h-3zM1080 328h2v1h-2zM1078 329h2v1h-2zM1076 330h2v1h-2zM1074 331h2v1h-2zM1071 332h3v1h-3zM1069 333h2v1h-2zM1067 334h2v1h-2zM1065 335h2v1h-2zM1063 336h2v1h-2zM1060 337h3v1h-3zM1058 338h2v1h-2zM1056 339h2v1h-2zM1054 340h2v1h-2zM1051 341h3v1h-3zM1049 342h2v1h-2zM1047 343h2v1h-2zM1045 344h2v1h-2zM1043 345h2v1h-2zM1039 346h4v1h-4zM1035 347h4v1h-4zM1031 348h4v1h-4zM1029 349h2v1h-2zM1027 350h2v1h-2zM1025 351h2v1h-2zM1023 352h2v1h-2zM1021 353h2v1h-2zM1019 354h2v1h-2zM1017 355h2v1h-2zM1015 356h2v1h-2zM1013 357h2v1h-2zM1011 358h2v1h-2zM1008 359h3v1h-3zM1006 360h2v1h-2zM1003 361h3v1h-3zM1000 362h3v1h-3zM998 363h2v1h-2zM995 364h3v1h-3zM993 365h2v1h-2zM991 366h2v1h-2zM989 367h2v1h-2zM987 368h2v1h-2zM985 369h2v1h-2zM983 370h2v1h-2zM981 371h2v1h-2zM979 372h2v1h-2zM977 373h2v1h-2zM975 374h2v1h-2zM973 375h2v1h-2zM971 376h2v1h-2zM968 377h3v1h-3zM964 378h4v1h-4zM960 379h4v1h-4zM956 380h4v1h-4zM953 381h3v1h-3zM950 382h3v1h-3zM946 383h4v1h-4zM943 384h3v1h-3zM940 385h3v1h-3zM936 386h4v1h-4zM925 387h11v1h-11zM912 388h13v1h-13zM904 389h8v1h-8zM895 390h9v1h-9zM886 391h9v1h-9zM851 392h21v1h-21zM878 392h8v1h-8zM831 393h20v1h-20zM872 393h6v1h-6zM816 394h15v1h-15zM806 395h10v1h-10zM796 396h10v1h-10zM786 397h10v1h-10zM778 398h8v1h-8zM773 399h5v1h-5zM768 400h5v1h-5zM762 401h6v1h-6zM754 402h8v1h-8zM749 403h5v1h-5zM745 404h4v1h-4zM741 405h4v1h-4zM737 406h4v1h-4zM733 407h4v1h-4zM728 408h5v1h-5zM474 409h25v1h-25zM723 409h5v1h-5zM462 410h12v1h-12zM499 410h3v1h-3zM718 410h5v1h-5zM451 411h11v1h-11zM502 411h2v1h-2zM713 411h5v1h-5zM443 412h8v1h-8zM504 412h4v1h-4zM708 412h5v1h-5zM435 413h8v1h-8zM508 413h5v1h-5zM703 413h5v1h-5zM422 414h13v1h-13zM513 414h5v1h-5zM698 414h5v1h-5zM410 415h12v1h-12zM518 415h5v1h-5zM693 415h5v1h-5zM402 416h8v1h-8zM523 416h5v1h-5zM686 416h7v1h-7zM396 417h6v1h-6zM528 417h10v1h-10zM671 417h15v1h-15zM391 418h5v1h-5zM538 418h11v1h-11zM636 418h35v1h-35zM386 419h5v1h-5zM549 419h8v1h-8zM626 419h10v1h-10zM380 420h6v1h-6zM557 420h7v1h-7zM617 420h9v1h-9zM372 421h8v1h-8zM564 421h8v1h-8zM609 421h8v1h-8zM361 422h11v1h-11zM572 422h37v1h-37zM350 423h11v1h-11zM342 424h8v1h-8zM335 425h7v1h-7zM330 426h5v1h-5zM325 427h5v1h-5zM319 428h6v1h-6zM311 429h8v1h-8zM305 430h6v1h-6zM300 431h5v1h-5zM295 432h5v1h-5zM290 433h5v1h-5zM285 434h5v1h-5zM280 435h5v1h-5zM275 436h5v1h-5zM270 437h5v1h-5zM265 438h5v1h-5zM259 439h6v1h-6zM253 440h6v1h-6zM246 441h7v1h-7zM240 442h6v1h-6zM235 443h5v1h-5zM231 444h4v1h-4zM227 445h4v1h-4zM223 446h4v1h-4zM219 447h4v1h-4zM214 448h5v1h-5zM209 449h5v1h-5zM204 450h5v1h-5zM199 451h5v1h-5zM194 452h5v1h-5zM189 453h5v1h-5zM103 454h31v1h-31zM179 454h10v1h-10zM92 455h11v1h-11zM134 455h45v1h-45zM84 456h8v1h-8zM76 457h8v1h-8zM68 458h8v1h-8zM62 459h6v1h-6zM58 460h4v1h-4zM55 461h3v1h-3zM51 462h4v1h-4zM47 463h4v1h-4zM43 464h4v1h-4zM38 465h5v1h-5zM33 466h5v1h-5zM29 467h4v1h-4zM25 468h4v1h-4zM21 469h4v1h-4zM17 470h4v1h-4zM14 471h3v1h-3zM10 472h4v1h-4zM6 473h4v1h-4zM2 474h4v1h-4zM0 475h2v1h-2z" fill="#ff00ff"/>
<path d="M1633 309h25v1h-25zM1624 310h9v1h-9zM1616 311h8v1h-8zM1610 312h6v1h-6zM1603 313h7v1h-7zM1590 314h13v1h-13zM1576 315h14v1h-14zM1570 316h6v1h-6zM1563 317h7v1h-7zM1557 318h6v1h-6zM1552 319h5v1h-5zM1547 320h5v1h-5zM1542 321h5v1h-5zM1538 322h4v1h-4zM1534 323h4v1h-4zM1530 324h4v1h-4zM1526 325h4v1h-4zM1522 326h4v1h-4zM1517 327h5v1h-5zM1512 328h5v1h-5zM1508 329h4v1h-4zM1503 330h5v1h-5zM1498 331h5v1h-5zM1494 332h4v1h-4zM1490 333h4v1h-4zM1487 334h3v1h-3zM1483 335h4v1h-4zM1480 336h3v1h-3zM1476 337h4v1h-4zM1473 338h3v1h-3zM1469 339h4v1h-4zM1466 340h3v1h-3zM1462 341h4v1h-4zM1458 342h4v1h-4zM1454 343h4v1h-4zM1450 344h4v1h-4zM1446 345h4v1h-4zM1442 346h4v1h-4zM1439 347h3v1h-3zM1436 348h3v1h-3zM1433 349h3v1h-3zM1430 350h3v1h-3zM1427 351h3v1h-3zM1423 352h4v1h-4zM1419 353h4v1h-4zM1415 354h4v1h-4zM1410 355h5v1h-5zM1406 356h4v1h-4zM1402 357h4v1h-4zM1398 358h4v1h-4zM1394 359h4v1h-4zM1390 360h4v1h-4zM1386 361h4v1h-4zM1382 362h4v1h-4zM1377 363h5v1h-5zM1372 364h5v1h-5zM1367 365h5v1h-5zM1362 366h5v1h-5zM1357 367h5v1h-5zM1353 368h4v1h-4zM1349 369h4v1h-4zM1345 370h4v1h-4zM1340 371h5v1h-5zM1336 372h4v1h-4zM1332 373h4v1h-4zM1328 374h4v1h-4zM1324 375h4v1h-4zM1320 376h4v1h-4zM1316 377h4v1h-4zM1312 378h4v1h-4zM1306 379h6v1h-6zM1300 380h6v1h-6zM1293 381h7v1h-7zM1286 382h7v1h-7zM1280 383h6v1h-6zM1273 384h7v1h-7zM1266 385h7v1h-7zM1260 386h6v1h-6zM1253 387h7v1h-7zM1246 388h7v1h-7zM1240 389h6v1h-6zM1233 390h7v1h-7zM1225 391h8v1h-8zM1215 392h10v1h-10zM1206 393h9v1h-9zM1199 394h7v1h-7zM1192 395h7v1h-7zM1185 396h7v1h-7zM1179 397h6v1h-6zM1174 398h5v1h-5zM1168 399h6v1h-6zM1163 400h5v1h-5zM1158 401h5v1h-5zM1152 402h6v1h-6zM1146 403h6v1h-6zM1138 404h8v1h-8zM1130 405h8v1h-8zM1122 406h8v1h-8zM1114 407h8v1h-8zM1106 408h8v1h-8zM1100 409h6v1h-6zM1093 410h7v1h-7zM1086 411h7v1h-7zM1080 412h6v1h-6zM1073 413h7v1h-7zM1067 414h6v1h-6zM1063 415h4v1h-4zM1058 416h5v1h-5zM1053 417h5v1h-5zM1049 418h4v1h-4zM1044 419h5v1h-5zM1037 420h7v1h-7zM1030 421h7v1h-7zM1024 422h6v1h-6zM1018 423h6v1h-6zM1012 424h6v1h-6zM1005 425h7v1h-7zM995 426h10v1h-10zM986 427h9v1h-9zM980 428h6v1h-6zM973 429h7v1h-7zM966 430h7v1h-7zM960 431h6v1h-6zM953 432h7v1h-7zM946 433h7v1h-7zM940 434h6v1h-6zM933 435h7v1h-7zM926 436h7v1h-7zM920 437h6v1h-6zM913 438h7v1h-7zM908 439h5v1h-5zM904 440h4v1h-4zM900 441h4v1h-4zM896 442h4v1h-4zM892 443h4v1h-4zM887 444h5v1h-5zM883 445h4v1h-4zM878 446h5v1h-5zM873 447h5v1h-5zM868 448h5v1h-5zM863 449h5v1h-5zM858 450h5v1h-5zM853 451h5v1h-5zM848 452h5v1h-5zM843 453h5v1h-5zM838 454h5v1h-5zM834 455h4v1h-4zM831 456h3v1h-3zM828 457h3v1h-3zM825 458h3v1h-3zM822 459h3v1h-3zM819 460h3v1h-3zM815 461h4v1h-4zM811 462h4v1h-4zM807 463h4v1h-4zM803 464h4v1h-4zM799 465h4v1h-4zM795 466h4v1h-4zM791 467h4v1h-4zM788 468h3v1h-3zM785 469h3v1h-3zM782 470h3v1h-3zM779 471h3v1h-3zM775 472h4v1h-4zM772 473h3v1h-3zM768 474h4v1h-4zM764 475h4v1h-4zM760 476h4v1h-4zM754 477h6v1h-6zM749 478h5v1h-5zM746 479h3v1h-3zM742 480h4v1h-4zM739 481h3v1h-3zM736 482h3v1h-3zM732 483h4v1h-4zM729 484h3v1h-3zM726 485h3v1h-3zM722 486h4v1h-4zM719 487h3v1h-3zM716 488h3v1h-3zM713 489h3v1h-3zM710 490h3v1h-3zM707 491h3v1h-3zM703 492h4v1h-4zM699 493h4v1h-4zM695 494h4v1h-4zM691 495h4v1h-4zM687 496h4v1h-4zM683 497h4v1h-4zM679 498h4v1h-4zM676 499h3v1h-3zM672 500h4v1h-4zM669 501h3v1h-3zM664 502h5v1h-5zM658 503h6v1h-6zM652 504h6v1h-6zM646 505h6v1h-6zM640 506h6v1h-6zM634 507h6v1h-6zM626 508h8v1h-8zM618 509h8v1h-8zM610 510h8v1h-8zM603 511h7v1h-7zM597 512h6v1h-6zM590 513h7v1h-7zM584 514h6v1h-6zM578 515h6v1h-6zM573 516h5v1h-5zM568 517h5v1h-5zM563 518h5v1h-5zM558 519h5v1h-5zM553 520h5v1h-5zM548 521h5v1h-5zM543 522h5v1h-5zM538 523h5v1h-5zM533 524h5v1h-5zM526 525h7v1h-7zM518 526h8v1h-8zM510 527h8v1h-8zM503 528h7v1h-7zM499 529h4v1h-4zM494 530h5v1h-5zM490 531h4v1h-4zM486 532h4v1h-4zM483 533h3v1h-3zM480 534h3v1h-3zM477 535h3v1h-3zM474 536h3v1h-3zM471 537h3v1h-3zM468 538h3v1h-3zM465 539h3v1h-3zM462 540h3v1h-3zM460 541h2v1h-2z" fill="#ff0000"/>
</g>
<rect x="1" y="73" width="1676" height="2" fill="#ff0000"/>
<rect x="1" y="180" width="1676" height="2" fill="#ff0000"/>
<path d="M0 178h6v6h-6zM1670 178h6v6h-6z" fill="#ff0000"/>
<path d="M2 180h2v2h-2zM1672 180h2v2h-2z" fill="#fff"/>
<rect x="1" y="287" width="1676" height="2" fill="#2ecc2e"/>
<path d="M0 285h6v6h-6zM1670 285h6v6h-6z" fill="#2ecc2e"/>
<path d="M2 287h2v2h-2zM1672 287h2v2h-2z" fill="#fff"/>
<rect x="1" y="377" width="1676" height="2" fill="#3a63e0"/>
<rect x="1" y="477" width="1676" height="2" fill="#3a63e0"/>
<path d="M0 475h6v6h-6zM1670 475h6v6h-6z" fill="#3a63e0"/>
<path d="M2 477h2v2h-2zM1672 477h2v2h-2z" fill="#fff"/>
<rect x="1677" y="42" width="2" height="1" fill="#000"/>
<text x="1682" y="45.5" font-size="9.5" fill="#000" stroke="#000" stroke-width="0.13"  textLength="38" lengthAdjust="spacingAndGlyphs">3246.725</text>
<rect x="1677" y="75" width="2" height="1" fill="#000"/>
<rect x="1677" y="108" width="2" height="1" fill="#000"/>
<text x="1682" y="111.5" font-size="9.5" fill="#000" stroke="#000" stroke-width="0.13"  textLength="38" lengthAdjust="spacingAndGlyphs">3181.055</text>
<rect x="1677" y="141" width="2" height="1" fill="#000"/>
<text x="1682" y="144.5" font-size="9.5" fill="#000" stroke="#000" stroke-width="0.13"  textLength="38" lengthAdjust="spacingAndGlyphs">3147.225</text>
<rect x="1677" y="174" width="2" height="1" fill="#000"/>
<text x="1682" y="177.5" font-size="9.5" fill="#000" stroke="#000" stroke-width="0.13"  textLength="38" lengthAdjust="spacingAndGlyphs">3114.390</text>
<rect x="1677" y="207" width="2" height="1" fill="#000"/>
<text x="1682" y="210.5" font-size="9.5" fill="#000" stroke="#000" stroke-width="0.13"  textLength="38" lengthAdjust="spacingAndGlyphs">3081.555</text>
<rect x="1677" y="240" width="2" height="1" fill="#000"/>
<text x="1682" y="243.5" font-size="9.5" fill="#000" stroke="#000" stroke-width="0.13"  textLength="38" lengthAdjust="spacingAndGlyphs">3048.720</text>
<rect x="1677" y="273" width="2" height="1" fill="#000"/>
<text x="1682" y="276.5" font-size="9.5" fill="#000" stroke="#000" stroke-width="0.13"  textLength="38" lengthAdjust="spacingAndGlyphs">3014.890</text>
<rect x="1677" y="306" width="2" height="1" fill="#000"/>
<text x="1682" y="309.5" font-size="9.5" fill="#000" stroke="#000" stroke-width="0.13"  textLength="38" lengthAdjust="spacingAndGlyphs">2982.055</text>
<rect x="1677" y="339" width="2" height="1" fill="#000"/>
<text x="1682" y="342.5" font-size="9.5" fill="#000" stroke="#000" stroke-width="0.13"  textLength="38" lengthAdjust="spacingAndGlyphs">2949.220</text>
<rect x="1677" y="372" width="2" height="1" fill="#000"/>
<text x="1682" y="375.5" font-size="9.5" fill="#000" stroke="#000" stroke-width="0.13"  textLength="38" lengthAdjust="spacingAndGlyphs">2916.385</text>
<rect x="1677" y="405" width="2" height="1" fill="#000"/>
<text x="1682" y="408.5" font-size="9.5" fill="#000" stroke="#000" stroke-width="0.13"  textLength="38" lengthAdjust="spacingAndGlyphs">2882.555</text>
<rect x="1677" y="438" width="2" height="1" fill="#000"/>
<text x="1682" y="441.5" font-size="9.5" fill="#000" stroke="#000" stroke-width="0.13"  textLength="38" lengthAdjust="spacingAndGlyphs">2849.720</text>
<rect x="1677" y="471" width="2" height="1" fill="#000"/>
<text x="1682" y="474.5" font-size="9.5" fill="#000" stroke="#000" stroke-width="0.13"  textLength="38" lengthAdjust="spacingAndGlyphs">2816.885</text>
<rect x="1677" y="504" width="2" height="1" fill="#000"/>
<text x="1682" y="507.5" font-size="9.5" fill="#000" stroke="#000" stroke-width="0.13"  textLength="38" lengthAdjust="spacingAndGlyphs">2784.050</text>
<rect x="1677" y="537" width="2" height="1" fill="#000"/>
<text x="1682" y="540.5" font-size="9.5" fill="#000" stroke="#000" stroke-width="0.13"  textLength="38" lengthAdjust="spacingAndGlyphs">2751.215</text>
<rect x="1678" y="286" width="42" height="11" fill="#000"/>
<text x="1682" y="295.0" font-size="9.5" fill="#fff" stroke="#fff" stroke-width="0.13"  textLength="38" lengthAdjust="spacingAndGlyphs">2997.750</text>
<rect x="1678" y="68" width="42" height="11" fill="#ff0000"/>
<text x="1682" y="77.0" font-size="9.5" fill="#fff" stroke="#fff" stroke-width="0.13"  textLength="38" lengthAdjust="spacingAndGlyphs">3215.000</text>
<rect x="1678" y="175" width="42" height="11" fill="#ff0000"/>
<text x="1682" y="184.0" font-size="9.5" fill="#fff" stroke="#fff" stroke-width="0.13"  textLength="38" lengthAdjust="spacingAndGlyphs">3107.273</text>
<rect x="1678" y="282" width="42" height="11" fill="#2ecc2e"/>
<text x="1682" y="291.0" font-size="9.5" fill="#fff" stroke="#fff" stroke-width="0.13"  textLength="38" lengthAdjust="spacingAndGlyphs">3000.000</text>
<rect x="1678" y="372" width="42" height="11" fill="#3a63e0"/>
<text x="1682" y="381.0" font-size="9.5" fill="#fff" stroke="#fff" stroke-width="0.13"  textLength="38" lengthAdjust="spacingAndGlyphs">2910.000</text>
<rect x="1678" y="472" width="42" height="11" fill="#3a63e0"/>
<text x="1682" y="481.0" font-size="9.5" fill="#fff" stroke="#fff" stroke-width="0.13"  textLength="38" lengthAdjust="spacingAndGlyphs">2810.000</text>
<path d="M4 40h8l-4 4z" fill="#000" shape-rendering="auto"/>
<text x="16" y="45" font-size="9.5" fill="#000" stroke="#000" stroke-width="0.13"  textLength="212" lengthAdjust="spacingAndGlyphs">SP500-,H4  3006.500 3007.250 2990.000 2997.750</text>
<text x="549.7" y="139.6" font-size="37" fill="#e8212b" class="cj" font-weight="400">多空转折点3000</text>
<g clip-path="url(#cd)">
<rect x="1" y="570" width="1" height="35" fill="#c0c0c0"/>
<rect x="9" y="572" width="1" height="33" fill="#c0c0c0"/>
<rect x="17" y="573" width="1" height="32" fill="#c0c0c0"/>
<rect x="25" y="571" width="1" height="34" fill="#c0c0c0"/>
<rect x="33" y="570" width="1" height="35" fill="#c0c0c0"/>
<rect x="41" y="571" width="1" height="34" fill="#c0c0c0"/>
<rect x="49" y="568" width="1" height="37" fill="#c0c0c0"/>
<rect x="57" y="565" width="1" height="40" fill="#c0c0c0"/>
<rect x="65" y="561" width="1" height="44" fill="#c0c0c0"/>
<rect x="73" y="558" width="1" height="47" fill="#c0c0c0"/>
<rect x="81" y="557" width="1" height="48" fill="#c0c0c0"/>
<rect x="89" y="560" width="1" height="45" fill="#c0c0c0"/>
<rect x="97" y="564" width="1" height="41" fill="#c0c0c0"/>
<rect x="105" y="569" width="1" height="36" fill="#c0c0c0"/>
<rect x="113" y="576" width="1" height="29" fill="#c0c0c0"/>
<rect x="121" y="583" width="1" height="22" fill="#c0c0c0"/>
<rect x="129" y="591" width="1" height="14" fill="#c0c0c0"/>
<rect x="137" y="597" width="1" height="8" fill="#c0c0c0"/>
<rect x="145" y="604" width="1" height="1" fill="#c0c0c0"/>
<rect x="153" y="604" width="1" height="6" fill="#c0c0c0"/>
<rect x="161" y="604" width="1" height="9" fill="#c0c0c0"/>
<rect x="169" y="604" width="1" height="19" fill="#c0c0c0"/>
<rect x="177" y="604" width="1" height="21" fill="#c0c0c0"/>
<rect x="185" y="604" width="1" height="25" fill="#c0c0c0"/>
<rect x="193" y="604" width="1" height="27" fill="#c0c0c0"/>
<rect x="201" y="604" width="1" height="26" fill="#c0c0c0"/>
<rect x="209" y="604" width="1" height="23" fill="#c0c0c0"/>
<rect x="217" y="604" width="1" height="21" fill="#c0c0c0"/>
<rect x="225" y="604" width="1" height="18" fill="#c0c0c0"/>
<rect x="233" y="604" width="1" height="13" fill="#c0c0c0"/>
<rect x="241" y="604" width="1" height="9" fill="#c0c0c0"/>
<rect x="249" y="604" width="1" height="3" fill="#c0c0c0"/>
<rect x="257" y="604" width="1" height="1" fill="#c0c0c0"/>
<rect x="265" y="604" width="1" height="1" fill="#c0c0c0"/>
<rect x="273" y="604" width="1" height="1" fill="#c0c0c0"/>
<rect x="281" y="600" width="1" height="5" fill="#c0c0c0"/>
<rect x="289" y="598" width="1" height="7" fill="#c0c0c0"/>
<rect x="297" y="599" width="1" height="6" fill="#c0c0c0"/>
<rect x="305" y="602" width="1" height="3" fill="#c0c0c0"/>
<rect x="329" y="603" width="1" height="2" fill="#c0c0c0"/>
<rect x="337" y="601" width="1" height="4" fill="#c0c0c0"/>
<rect x="345" y="598" width="1" height="7" fill="#c0c0c0"/>
<rect x="353" y="596" width="1" height="9" fill="#c0c0c0"/>
<rect x="361" y="593" width="1" height="12" fill="#c0c0c0"/>
<rect x="369" y="589" width="1" height="16" fill="#c0c0c0"/>
<rect x="377" y="587" width="1" height="18" fill="#c0c0c0"/>
<rect x="385" y="585" width="1" height="20" fill="#c0c0c0"/>
<rect x="393" y="583" width="1" height="22" fill="#c0c0c0"/>
<rect x="401" y="581" width="1" height="24" fill="#c0c0c0"/>
<rect x="409" y="579" width="1" height="26" fill="#c0c0c0"/>
<rect x="417" y="576" width="1" height="29" fill="#c0c0c0"/>
<rect x="425" y="574" width="1" height="31" fill="#c0c0c0"/>
<rect x="433" y="573" width="1" height="32" fill="#c0c0c0"/>
<rect x="441" y="578" width="1" height="27" fill="#c0c0c0"/>
<rect x="449" y="579" width="1" height="26" fill="#c0c0c0"/>
<rect x="457" y="580" width="1" height="25" fill="#c0c0c0"/>
<rect x="465" y="581" width="1" height="24" fill="#c0c0c0"/>
<rect x="473" y="584" width="1" height="21" fill="#c0c0c0"/>
<rect x="481" y="586" width="1" height="19" fill="#c0c0c0"/>
<rect x="489" y="585" width="1" height="20" fill="#c0c0c0"/>
<rect x="497" y="585" width="1" height="20" fill="#c0c0c0"/>
<rect x="505" y="593" width="1" height="12" fill="#c0c0c0"/>
<rect x="513" y="603" width="1" height="2" fill="#c0c0c0"/>
<rect x="521" y="604" width="1" height="4" fill="#c0c0c0"/>
<rect x="529" y="604" width="1" height="8" fill="#c0c0c0"/>
<rect x="537" y="604" width="1" height="9" fill="#c0c0c0"/>
<rect x="545" y="604" width="1" height="16" fill="#c0c0c0"/>
<rect x="553" y="604" width="1" height="21" fill="#c0c0c0"/>
<rect x="561" y="604" width="1" height="26" fill="#c0c0c0"/>
<rect x="569" y="604" width="1" height="29" fill="#c0c0c0"/>
<rect x="577" y="604" width="1" height="31" fill="#c0c0c0"/>
<rect x="585" y="604" width="1" height="34" fill="#c0c0c0"/>
<rect x="593" y="604" width="1" height="37" fill="#c0c0c0"/>
<rect x="601" y="604" width="1" height="32" fill="#c0c0c0"/>
<rect x="609" y="604" width="1" height="27" fill="#c0c0c0"/>
<rect x="617" y="604" width="1" height="24" fill="#c0c0c0"/>
<rect x="625" y="604" width="1" height="19" fill="#c0c0c0"/>
<rect x="633" y="604" width="1" height="21" fill="#c0c0c0"/>
<rect x="641" y="604" width="1" height="21" fill="#c0c0c0"/>
<rect x="649" y="604" width="1" height="17" fill="#c0c0c0"/>
<rect x="657" y="604" width="1" height="15" fill="#c0c0c0"/>
<rect x="665" y="604" width="1" height="9" fill="#c0c0c0"/>
<rect x="673" y="604" width="1" height="6" fill="#c0c0c0"/>
<rect x="689" y="598" width="1" height="7" fill="#c0c0c0"/>
<rect x="697" y="589" width="1" height="16" fill="#c0c0c0"/>
<rect x="705" y="582" width="1" height="23" fill="#c0c0c0"/>
<rect x="713" y="576" width="1" height="29" fill="#c0c0c0"/>
<rect x="721" y="574" width="1" height="31" fill="#c0c0c0"/>
<rect x="729" y="571" width="1" height="34" fill="#c0c0c0"/>
<rect x="737" y="570" width="1" height="35" fill="#c0c0c0"/>
<rect x="745" y="568" width="1" height="37" fill="#c0c0c0"/>
<rect x="753" y="572" width="1" height="33" fill="#c0c0c0"/>
<rect x="761" y="574" width="1" height="31" fill="#c0c0c0"/>
<rect x="769" y="574" width="1" height="31" fill="#c0c0c0"/>
<rect x="777" y="576" width="1" height="29" fill="#c0c0c0"/>
<rect x="785" y="575" width="1" height="30" fill="#c0c0c0"/>
<rect x="793" y="572" width="1" height="33" fill="#c0c0c0"/>
<rect x="801" y="570" width="1" height="35" fill="#c0c0c0"/>
<rect x="809" y="570" width="1" height="35" fill="#c0c0c0"/>
<rect x="817" y="572" width="1" height="33" fill="#c0c0c0"/>
<rect x="825" y="574" width="1" height="31" fill="#c0c0c0"/>
<rect x="833" y="575" width="1" height="30" fill="#c0c0c0"/>
<rect x="841" y="578" width="1" height="27" fill="#c0c0c0"/>
<rect x="849" y="580" width="1" height="25" fill="#c0c0c0"/>
<rect x="857" y="581" width="1" height="24" fill="#c0c0c0"/>
<rect x="865" y="586" width="1" height="19" fill="#c0c0c0"/>
<rect x="873" y="592" width="1" height="13" fill="#c0c0c0"/>
<rect x="881" y="592" width="1" height="13" fill="#c0c0c0"/>
<rect x="889" y="593" width="1" height="12" fill="#c0c0c0"/>
<rect x="897" y="593" width="1" height="12" fill="#c0c0c0"/>
<rect x="905" y="592" width="1" height="13" fill="#c0c0c0"/>
<rect x="913" y="590" width="1" height="15" fill="#c0c0c0"/>
<rect x="921" y="589" width="1" height="16" fill="#c0c0c0"/>
<rect x="929" y="588" width="1" height="17" fill="#c0c0c0"/>
<rect x="937" y="586" width="1" height="19" fill="#c0c0c0"/>
<rect x="945" y="584" width="1" height="21" fill="#c0c0c0"/>
<rect x="953" y="582" width="1" height="23" fill="#c0c0c0"/>
<rect x="961" y="581" width="1" height="24" fill="#c0c0c0"/>
<rect x="969" y="579" width="1" height="26" fill="#c0c0c0"/>
<rect x="977" y="577" width="1" height="28" fill="#c0c0c0"/>
<rect x="985" y="576" width="1" height="29" fill="#c0c0c0"/>
<rect x="993" y="576" width="1" height="29" fill="#c0c0c0"/>
<rect x="1001" y="578" width="1" height="27" fill="#c0c0c0"/>
<rect x="1009" y="579" width="1" height="26" fill="#c0c0c0"/>
<rect x="1017" y="578" width="1" height="27" fill="#c0c0c0"/>
<rect x="1025" y="577" width="1" height="28" fill="#c0c0c0"/>
<rect x="1033" y="576" width="1" height="29" fill="#c0c0c0"/>
<rect x="1041" y="578" width="1" height="27" fill="#c0c0c0"/>
<rect x="1049" y="576" width="1" height="29" fill="#c0c0c0"/>
<rect x="1057" y="574" width="1" height="31" fill="#c0c0c0"/>
<rect x="1065" y="573" width="1" height="32" fill="#c0c0c0"/>
<rect x="1073" y="572" width="1" height="33" fill="#c0c0c0"/>
<rect x="1081" y="572" width="1" height="33" fill="#c0c0c0"/>
<rect x="1089" y="571" width="1" height="34" fill="#c0c0c0"/>
<rect x="1097" y="574" width="1" height="31" fill="#c0c0c0"/>
<rect x="1105" y="576" width="1" height="29" fill="#c0c0c0"/>
<rect x="1113" y="578" width="1" height="27" fill="#c0c0c0"/>
<rect x="1121" y="580" width="1" height="25" fill="#c0c0c0"/>
<rect x="1129" y="581" width="1" height="24" fill="#c0c0c0"/>
<rect x="1137" y="585" width="1" height="20" fill="#c0c0c0"/>
<rect x="1145" y="584" width="1" height="21" fill="#c0c0c0"/>
<rect x="1153" y="582" width="1" height="23" fill="#c0c0c0"/>
<rect x="1161" y="585" width="1" height="20" fill="#c0c0c0"/>
<rect x="1169" y="585" width="1" height="20" fill="#c0c0c0"/>
<rect x="1177" y="584" width="1" height="21" fill="#c0c0c0"/>
<rect x="1185" y="585" width="1" height="20" fill="#c0c0c0"/>
<rect x="1193" y="585" width="1" height="20" fill="#c0c0c0"/>
<rect x="1201" y="584" width="1" height="21" fill="#c0c0c0"/>
<rect x="1209" y="587" width="1" height="18" fill="#c0c0c0"/>
<rect x="1217" y="588" width="1" height="17" fill="#c0c0c0"/>
<rect x="1225" y="587" width="1" height="18" fill="#c0c0c0"/>
<rect x="1233" y="585" width="1" height="20" fill="#c0c0c0"/>
<rect x="1241" y="586" width="1" height="19" fill="#c0c0c0"/>
<rect x="1249" y="584" width="1" height="21" fill="#c0c0c0"/>
<rect x="1257" y="581" width="1" height="24" fill="#c0c0c0"/>
<rect x="1265" y="580" width="1" height="25" fill="#c0c0c0"/>
<rect x="1273" y="578" width="1" height="27" fill="#c0c0c0"/>
<rect x="1281" y="577" width="1" height="28" fill="#c0c0c0"/>
<rect x="1289" y="574" width="1" height="31" fill="#c0c0c0"/>
<rect x="1297" y="572" width="1" height="33" fill="#c0c0c0"/>
<rect x="1305" y="569" width="1" height="36" fill="#c0c0c0"/>
<rect x="1313" y="570" width="1" height="35" fill="#c0c0c0"/>
<rect x="1321" y="570" width="1" height="35" fill="#c0c0c0"/>
<rect x="1329" y="572" width="1" height="33" fill="#c0c0c0"/>
<rect x="1337" y="572" width="1" height="33" fill="#c0c0c0"/>
<rect x="1345" y="573" width="1" height="32" fill="#c0c0c0"/>
<rect x="1353" y="574" width="1" height="31" fill="#c0c0c0"/>
<rect x="1361" y="574" width="1" height="31" fill="#c0c0c0"/>
<rect x="1369" y="572" width="1" height="33" fill="#c0c0c0"/>
<rect x="1377" y="572" width="1" height="33" fill="#c0c0c0"/>
<rect x="1385" y="564" width="1" height="41" fill="#c0c0c0"/>
<rect x="1393" y="560" width="1" height="45" fill="#c0c0c0"/>
<rect x="1401" y="558" width="1" height="47" fill="#c0c0c0"/>
<rect x="1409" y="554" width="1" height="51" fill="#c0c0c0"/>
<rect x="1417" y="553" width="1" height="52" fill="#c0c0c0"/>
<rect x="1425" y="554" width="1" height="51" fill="#c0c0c0"/>
<rect x="1433" y="553" width="1" height="52" fill="#c0c0c0"/>
<rect x="1441" y="553" width="1" height="52" fill="#c0c0c0"/>
<rect x="1449" y="550" width="1" height="55" fill="#c0c0c0"/>
<rect x="1457" y="550" width="1" height="55" fill="#c0c0c0"/>
<rect x="1465" y="550" width="1" height="55" fill="#c0c0c0"/>
<rect x="1473" y="553" width="1" height="52" fill="#c0c0c0"/>
<rect x="1481" y="556" width="1" height="49" fill="#c0c0c0"/>
<rect x="1489" y="559" width="1" height="46" fill="#c0c0c0"/>
<rect x="1497" y="562" width="1" height="43" fill="#c0c0c0"/>
<rect x="1505" y="563" width="1" height="42" fill="#c0c0c0"/>
<rect x="1513" y="564" width="1" height="41" fill="#c0c0c0"/>
<rect x="1521" y="565" width="1" height="40" fill="#c0c0c0"/>
<rect x="1529" y="567" width="1" height="38" fill="#c0c0c0"/>
<rect x="1537" y="572" width="1" height="33" fill="#c0c0c0"/>
<rect x="1545" y="576" width="1" height="29" fill="#c0c0c0"/>
<rect x="1553" y="583" width="1" height="22" fill="#c0c0c0"/>
<rect x="1561" y="590" width="1" height="15" fill="#c0c0c0"/>
<rect x="1569" y="598" width="1" height="7" fill="#c0c0c0"/>
<rect x="1585" y="604" width="1" height="11" fill="#c0c0c0"/>
<rect x="1593" y="604" width="1" height="29" fill="#c0c0c0"/>
<rect x="1601" y="604" width="1" height="39" fill="#c0c0c0"/>
<rect x="1609" y="604" width="1" height="45" fill="#c0c0c0"/>
<rect x="1617" y="604" width="1" height="49" fill="#c0c0c0"/>
<rect x="1625" y="604" width="1" height="49" fill="#c0c0c0"/>
<rect x="1633" y="604" width="1" height="51" fill="#c0c0c0"/>
<rect x="1641" y="604" width="1" height="52" fill="#c0c0c0"/>
<rect x="1649" y="604" width="1" height="53" fill="#c0c0c0"/>
<rect x="1657" y="604" width="1" height="58" fill="#c0c0c0"/>
<path d="M1471 551h2v1h-2zM1476 551h3v1h-3zM1464 552h3v1h-3zM1482 552h3v1h-3zM1488 552h3v1h-3zM1458 553h3v1h-3zM1494 553h3v1h-3zM1453 554h2v1h-2zM1500 554h3v1h-3zM1506 555h3v1h-3zM1446 556h2v1h-2zM1512 556h3v1h-3zM1440 557h3v1h-3zM1519 557h2v1h-2zM1434 558h3v1h-3zM1525 558h2v1h-2zM1530 559h3v1h-3zM1428 560h3v1h-3zM1536 561h3v1h-3zM1422 562h2v1h-2zM96 563h3v1h-3zM102 563h3v1h-3zM108 563h3v1h-3zM114 563h3v1h-3zM1542 563h2v1h-2zM84 564h3v1h-3zM90 564h3v1h-3zM1416 564h3v1h-3zM78 565h3v1h-3zM121 565h2v1h-2zM1410 565h3v1h-3zM72 566h3v1h-3zM1549 566h2v1h-2zM61 567h2v1h-2zM66 567h3v1h-3zM127 567h2v1h-2zM1404 567h3v1h-3zM55 568h2v1h-2zM1399 568h2v1h-2zM1554 568h3v1h-3zM132 569h2v1h-2zM1392 569h3v1h-3zM48 570h2v1h-2zM1386 570h3v1h-3zM1561 570h2v1h-2zM30 571h3v1h-3zM36 571h3v1h-3zM42 571h3v1h-3zM792 571h3v1h-3zM798 571h3v1h-3zM804 571h3v1h-3zM810 571h3v1h-3zM816 571h2v1h-2zM1350 571h3v1h-3zM1356 571h3v1h-3zM1362 571h3v1h-3zM1368 571h3v1h-3zM1374 571h3v1h-3zM1380 571h3v1h-3zM24 572h3v1h-3zM774 572h3v1h-3zM780 572h3v1h-3zM786 572h2v1h-2zM822 572h3v1h-3zM828 572h3v1h-3zM834 572h3v1h-3zM840 572h3v1h-3zM1326 572h3v1h-3zM1332 572h3v1h-3zM1338 572h3v1h-3zM1344 572h2v1h-2zM1567 572h2v1h-2zM12 573h3v1h-3zM18 573h2v1h-2zM139 573h2v1h-2zM768 573h3v1h-3zM847 573h2v1h-2zM852 573h3v1h-3zM1081 573h2v1h-2zM1086 573h3v1h-3zM1092 573h3v1h-3zM1098 573h3v1h-3zM1104 573h3v1h-3zM1110 573h3v1h-3zM1116 573h3v1h-3zM1122 573h3v1h-3zM6 574h3v1h-3zM762 574h2v1h-2zM858 574h3v1h-3zM1128 574h3v1h-3zM1320 574h2v1h-2zM0 575h3v1h-3zM757 575h2v1h-2zM864 575h3v1h-3zM1074 575h3v1h-3zM1134 575h3v1h-3zM1314 575h3v1h-3zM1032 576h3v1h-3zM1038 576h3v1h-3zM1044 576h3v1h-3zM1050 576h3v1h-3zM1056 576h3v1h-3zM1062 576h3v1h-3zM1068 576h3v1h-3zM1140 576h3v1h-3zM1308 576h3v1h-3zM1573 576h2v1h-2zM450 577h3v1h-3zM456 577h3v1h-3zM462 577h3v1h-3zM468 577h3v1h-3zM474 577h3v1h-3zM1021 577h2v1h-2zM1026 577h3v1h-3zM1146 577h3v1h-3zM439 578h2v1h-2zM444 578h3v1h-3zM481 578h2v1h-2zM486 578h3v1h-3zM750 578h2v1h-2zM871 578h2v1h-2zM1014 578h3v1h-3zM1152 578h3v1h-3zM1302 578h2v1h-2zM492 579h3v1h-3zM876 579h3v1h-3zM1002 579h3v1h-3zM1008 579h3v1h-3zM1158 579h3v1h-3zM1296 579h3v1h-3zM432 580h3v1h-3zM745 580h2v1h-2zM882 580h3v1h-3zM991 580h2v1h-2zM996 580h3v1h-3zM1164 580h3v1h-3zM1578 580h2v1h-2zM499 581h2v1h-2zM1170 581h3v1h-3zM1290 581h2v1h-2zM426 582h2v1h-2zM504 582h3v1h-3zM889 582h2v1h-2zM984 582h3v1h-3zM1176 582h3v1h-3zM1279 582h2v1h-2zM1284 582h3v1h-3zM421 583h2v1h-2zM978 583h3v1h-3zM1182 583h3v1h-3zM1188 583h3v1h-3zM1272 583h3v1h-3zM510 584h2v1h-2zM738 584h2v1h-2zM894 584h2v1h-2zM973 584h2v1h-2zM1194 584h3v1h-3zM1200 584h3v1h-3zM1206 584h3v1h-3zM1212 584h3v1h-3zM1218 584h3v1h-3zM1249 584h2v1h-2zM1254 584h3v1h-3zM1260 584h3v1h-3zM1266 584h3v1h-3zM156 585h2v1h-2zM414 585h3v1h-3zM1224 585h3v1h-3zM1230 585h3v1h-3zM1236 585h3v1h-3zM1242 585h3v1h-3zM900 586h3v1h-3zM966 586h2v1h-2zM408 587h3v1h-3zM517 587h2v1h-2zM733 587h2v1h-2zM906 587h2v1h-2zM954 587h3v1h-3zM960 587h2v1h-2zM403 588h2v1h-2zM912 588h3v1h-3zM948 588h3v1h-3zM522 589h2v1h-2zM918 589h3v1h-3zM924 589h2v1h-2zM943 589h2v1h-2zM163 590h2v1h-2zM396 590h2v1h-2zM930 590h3v1h-3zM936 590h3v1h-3zM727 591h2v1h-2zM390 592h2v1h-2zM529 592h2v1h-2zM384 594h3v1h-3zM534 594h2v1h-2zM169 595h2v1h-2zM721 595h2v1h-2zM378 596h3v1h-3zM540 597h2v1h-2zM372 598h2v1h-2zM348 599h3v1h-3zM354 599h3v1h-3zM360 599h3v1h-3zM366 599h2v1h-2zM342 600h3v1h-3zM546 600h2v1h-2zM714 600h2v1h-2zM313 601h2v1h-2zM318 601h3v1h-3zM324 601h3v1h-3zM330 601h3v1h-3zM336 601h3v1h-3zM306 603h2v1h-2zM300 604h3v1h-3zM553 604h2v1h-2zM294 605h3v1h-3zM288 607h3v1h-3zM558 607h2v1h-2zM186 608h2v1h-2zM702 608h2v1h-2zM282 609h2v1h-2zM277 611h2v1h-2zM564 611h2v1h-2zM696 611h2v1h-2zM193 613h2v1h-2zM271 614h2v1h-2zM690 614h2v1h-2zM570 615h2v1h-2zM199 616h2v1h-2zM684 616h3v1h-3zM264 617h3v1h-3zM576 618h2v1h-2zM679 618h2v1h-2zM205 619h2v1h-2zM258 619h3v1h-3zM211 621h2v1h-2zM252 621h2v1h-2zM582 621h2v1h-2zM672 621h2v1h-2zM247 622h2v1h-2zM217 623h2v1h-2zM666 623h2v1h-2zM222 624h2v1h-2zM240 624h3v1h-3zM588 624h2v1h-2zM228 625h3v1h-3zM234 625h3v1h-3zM660 625h2v1h-2zM594 626h2v1h-2zM654 627h2v1h-2zM600 628h2v1h-2zM648 629h2v1h-2zM606 630h3v1h-3zM642 630h3v1h-3zM612 631h3v1h-3zM636 631h3v1h-3zM618 632h3v1h-3zM624 632h3v1h-3zM630 632h3v1h-3zM1632 632h2v1h-2zM1637 636h2v1h-2zM1643 641h2v1h-2zM1650 646h2v1h-2zM1656 649h2v1h-2zM20 572h1v1h-1zM50 569h1v1h-1zM54 569h1v1h-1zM60 568h1v1h-1zM120 564h1v1h-1zM126 566h1v1h-1zM134 570h1v1h-1zM138 572h1v1h-1zM144 576h1v1h-1zM145 577h1v1h-1zM146 578h1v1h-1zM150 580h1v1h-1zM151 581h1v1h-1zM152 582h1v1h-1zM158 586h1v1h-1zM162 589h1v1h-1zM168 594h1v1h-1zM174 599h1v1h-1zM175 600h1v1h-1zM176 601h1v1h-1zM180 603h1v1h-1zM181 604h1v1h-1zM182 605h1v1h-1zM188 609h1v1h-1zM192 612h1v1h-1zM198 615h1v1h-1zM204 618h1v1h-1zM210 620h1v1h-1zM216 622h1v1h-1zM224 625h1v1h-1zM246 623h1v1h-1zM254 620h1v1h-1zM270 615h1v1h-1zM276 612h1v1h-1zM284 608h1v1h-1zM308 602h1v1h-1zM312 602h1v1h-1zM368 598h1v1h-1zM374 597h1v1h-1zM392 591h1v1h-1zM398 589h1v1h-1zM402 589h1v1h-1zM420 584h1v1h-1zM428 581h1v1h-1zM438 579h1v1h-1zM480 577h1v1h-1zM498 580h1v1h-1zM512 585h1v1h-1zM516 586h1v1h-1zM524 590h1v1h-1zM528 591h1v1h-1zM536 595h1v1h-1zM542 598h1v1h-1zM548 601h1v1h-1zM552 603h1v1h-1zM560 608h1v1h-1zM566 612h1v1h-1zM572 616h1v1h-1zM578 619h1v1h-1zM584 622h1v1h-1zM590 625h1v1h-1zM596 627h1v1h-1zM602 629h1v1h-1zM650 628h1v1h-1zM656 626h1v1h-1zM662 624h1v1h-1zM668 622h1v1h-1zM674 620h1v1h-1zM678 619h1v1h-1zM692 613h1v1h-1zM698 610h1v1h-1zM704 607h1v1h-1zM708 605h1v1h-1zM709 604h1v1h-1zM710 603h1v1h-1zM716 599h1v1h-1zM720 596h1v1h-1zM726 592h1v1h-1zM732 588h1v1h-1zM740 583h1v1h-1zM744 581h1v1h-1zM752 577h1v1h-1zM756 576h1v1h-1zM764 573h1v1h-1zM788 571h1v1h-1zM818 572h1v1h-1zM846 572h1v1h-1zM870 577h1v1h-1zM888 581h1v1h-1zM896 585h1v1h-1zM908 588h1v1h-1zM926 590h1v1h-1zM942 590h1v1h-1zM962 586h1v1h-1zM968 585h1v1h-1zM972 585h1v1h-1zM990 581h1v1h-1zM1020 578h1v1h-1zM1080 574h1v1h-1zM1248 585h1v1h-1zM1278 583h1v1h-1zM1292 580h1v1h-1zM1304 577h1v1h-1zM1322 573h1v1h-1zM1346 571h1v1h-1zM1398 569h1v1h-1zM1424 561h1v1h-1zM1448 555h1v1h-1zM1452 555h1v1h-1zM1470 552h1v1h-1zM1518 556h1v1h-1zM1524 557h1v1h-1zM1544 564h1v1h-1zM1548 565h1v1h-1zM1560 569h1v1h-1zM1566 571h1v1h-1zM1572 575h1v1h-1zM1580 581h1v1h-1zM1584 584h1v1h-1zM1585 585h1v1h-1zM1586 586h1v1h-1zM1590 589h1v1h-1zM1591 590h1v1h-1zM1592 591h1v1h-1zM1596 595h1v1h-1zM1597 596h1v1h-1zM1598 597h1v1h-1zM1602 601h1v1h-1zM1603 602h1v1h-1zM1604 603h1v1h-1zM1607 607h1v1h-1zM1608 608h1v1h-1zM1609 609h1v1h-1zM1613 613h1v1h-1zM1614 614h1v1h-1zM1615 615h1v1h-1zM1619 619h1v1h-1zM1620 620h1v1h-1zM1621 621h1v1h-1zM1625 625h1v1h-1zM1626 626h1v1h-1zM1627 627h1v1h-1zM1631 631h1v1h-1zM1639 637h1v1h-1zM1645 642h1v1h-1zM1649 645h1v1h-1zM1655 648h1v1h-1z" fill="#ff0000"/>
</g>
<text x="5" y="555" font-size="9.5" fill="#000" stroke="#000" stroke-width="0.13"  textLength="144" lengthAdjust="spacingAndGlyphs">MACD(12,26,9) -39.6648 -32.4627</text>
<rect x="1677" y="544" width="1" height="1" fill="#000"/>
<rect x="1677" y="604" width="2" height="1" fill="#000"/>
<rect x="1677" y="666" width="1" height="1" fill="#000"/>
<text x="1680" y="552.2" font-size="9.5" fill="#000" stroke="#000" stroke-width="0.13"  textLength="33" lengthAdjust="spacingAndGlyphs">41.4651</text>
<text x="1680" y="608" font-size="9.5" fill="#000" stroke="#000" stroke-width="0.13"  textLength="18" lengthAdjust="spacingAndGlyphs">0.00</text>
<text x="1680" y="664" font-size="9.5" fill="#000" stroke="#000" stroke-width="0.13"  textLength="36" lengthAdjust="spacingAndGlyphs">-43.5281</text>
<g clip-path="url(#cr)">
<path d="M1 701h3v1h-3zM7 701h3v1h-3zM13 701h3v1h-3zM19 701h3v1h-3zM25 701h3v1h-3zM31 701h3v1h-3zM37 701h3v1h-3zM43 701h3v1h-3zM49 701h3v1h-3zM55 701h3v1h-3zM61 701h3v1h-3zM67 701h3v1h-3zM73 701h3v1h-3zM79 701h3v1h-3zM85 701h3v1h-3zM91 701h3v1h-3zM97 701h3v1h-3zM103 701h3v1h-3zM109 701h3v1h-3zM115 701h3v1h-3zM121 701h3v1h-3zM127 701h3v1h-3zM133 701h3v1h-3zM139 701h3v1h-3zM145 701h3v1h-3zM151 701h3v1h-3zM157 701h3v1h-3zM163 701h3v1h-3zM169 701h3v1h-3zM175 701h3v1h-3zM181 701h3v1h-3zM187 701h3v1h-3zM193 701h3v1h-3zM199 701h3v1h-3zM205 701h3v1h-3zM211 701h3v1h-3zM217 701h3v1h-3zM223 701h3v1h-3zM229 701h3v1h-3zM235 701h3v1h-3zM241 701h3v1h-3zM247 701h3v1h-3zM253 701h3v1h-3zM259 701h3v1h-3zM265 701h3v1h-3zM271 701h3v1h-3zM277 701h3v1h-3zM283 701h3v1h-3zM289 701h3v1h-3zM295 701h3v1h-3zM301 701h3v1h-3zM307 701h3v1h-3zM313 701h3v1h-3zM319 701h3v1h-3zM325 701h3v1h-3zM331 701h3v1h-3zM337 701h3v1h-3zM343 701h3v1h-3zM349 701h3v1h-3zM355 701h3v1h-3zM361 701h3v1h-3zM367 701h3v1h-3zM373 701h3v1h-3zM379 701h3v1h-3zM385 701h3v1h-3zM391 701h3v1h-3zM397 701h3v1h-3zM403 701h3v1h-3zM409 701h3v1h-3zM415 701h3v1h-3zM421 701h3v1h-3zM427 701h3v1h-3zM433 701h3v1h-3zM439 701h3v1h-3zM445 701h3v1h-3zM451 701h3v1h-3zM457 701h3v1h-3zM463 701h3v1h-3zM469 701h3v1h-3zM475 701h3v1h-3zM481 701h3v1h-3zM487 701h3v1h-3zM493 701h3v1h-3zM499 701h3v1h-3zM505 701h3v1h-3zM511 701h3v1h-3zM517 701h3v1h-3zM523 701h3v1h-3zM529 701h3v1h-3zM535 701h3v1h-3zM541 701h3v1h-3zM547 701h3v1h-3zM553 701h3v1h-3zM559 701h3v1h-3zM565 701h3v1h-3zM571 701h3v1h-3zM577 701h3v1h-3zM583 701h3v1h-3zM589 701h3v1h-3zM595 701h3v1h-3zM601 701h3v1h-3zM607 701h3v1h-3zM613 701h3v1h-3zM619 701h3v1h-3zM625 701h3v1h-3zM631 701h3v1h-3zM637 701h3v1h-3zM643 701h3v1h-3zM649 701h3v1h-3zM655 701h3v1h-3zM661 701h3v1h-3zM667 701h3v1h-3zM673 701h3v1h-3zM679 701h3v1h-3zM685 701h3v1h-3zM691 701h3v1h-3zM697 701h3v1h-3zM703 701h3v1h-3zM709 701h3v1h-3zM715 701h3v1h-3zM721 701h3v1h-3zM727 701h3v1h-3zM733 701h3v1h-3zM739 701h3v1h-3zM745 701h3v1h-3zM751 701h3v1h-3zM757 701h3v1h-3zM763 701h3v1h-3zM769 701h3v1h-3zM775 701h3v1h-3zM781 701h3v1h-3zM787 701h3v1h-3zM793 701h3v1h-3zM799 701h3v1h-3zM805 701h3v1h-3zM811 701h3v1h-3zM817 701h3v1h-3zM823 701h3v1h-3zM829 701h3v1h-3zM835 701h3v1h-3zM841 701h3v1h-3zM847 701h3v1h-3zM853 701h3v1h-3zM859 701h3v1h-3zM865 701h3v1h-3zM871 701h3v1h-3zM877 701h3v1h-3zM883 701h3v1h-3zM889 701h3v1h-3zM895 701h3v1h-3zM901 701h3v1h-3zM907 701h3v1h-3zM913 701h3v1h-3zM919 701h3v1h-3zM925 701h3v1h-3zM931 701h3v1h-3zM937 701h3v1h-3zM943 701h3v1h-3zM949 701h3v1h-3zM955 701h3v1h-3zM961 701h3v1h-3zM967 701h3v1h-3zM973 701h3v1h-3zM979 701h3v1h-3zM985 701h3v1h-3zM991 701h3v1h-3zM997 701h3v1h-3zM1003 701h3v1h-3zM1009 701h3v1h-3zM1015 701h3v1h-3zM1021 701h3v1h-3zM1027 701h3v1h-3zM1033 701h3v1h-3zM1039 701h3v1h-3zM1045 701h3v1h-3zM1051 701h3v1h-3zM1057 701h3v1h-3zM1063 701h3v1h-3zM1069 701h3v1h-3zM1075 701h3v1h-3zM1081 701h3v1h-3zM1087 701h3v1h-3zM1093 701h3v1h-3zM1099 701h3v1h-3zM1105 701h3v1h-3zM1111 701h3v1h-3zM1117 701h3v1h-3zM1123 701h3v1h-3zM1129 701h3v1h-3zM1135 701h3v1h-3zM1141 701h3v1h-3zM1147 701h3v1h-3zM1153 701h3v1h-3zM1159 701h3v1h-3zM1165 701h3v1h-3zM1171 701h3v1h-3zM1177 701h3v1h-3zM1183 701h3v1h-3zM1189 701h3v1h-3zM1195 701h3v1h-3zM1201 701h3v1h-3zM1207 701h3v1h-3zM1213 701h3v1h-3zM1219 701h3v1h-3zM1225 701h3v1h-3zM1231 701h3v1h-3zM1237 701h3v1h-3zM1243 701h3v1h-3zM1249 701h3v1h-3zM1255 701h3v1h-3zM1261 701h3v1h-3zM1267 701h3v1h-3zM1273 701h3v1h-3zM1279 701h3v1h-3zM1285 701h3v1h-3zM1291 701h3v1h-3zM1297 701h3v1h-3zM1303 701h3v1h-3zM1309 701h3v1h-3zM1315 701h3v1h-3zM1321 701h3v1h-3zM1327 701h3v1h-3zM1333 701h3v1h-3zM1339 701h3v1h-3zM1345 701h3v1h-3zM1351 701h3v1h-3zM1357 701h3v1h-3zM1363 701h3v1h-3zM1369 701h3v1h-3zM1375 701h3v1h-3zM1381 701h3v1h-3zM1387 701h3v1h-3zM1393 701h3v1h-3zM1399 701h3v1h-3zM1405 701h3v1h-3zM1411 701h3v1h-3zM1417 701h3v1h-3zM1423 701h3v1h-3zM1429 701h3v1h-3zM1435 701h3v1h-3zM1441 701h3v1h-3zM1447 701h3v1h-3zM1453 701h3v1h-3zM1459 701h3v1h-3zM1465 701h3v1h-3zM1471 701h3v1h-3zM1477 701h3v1h-3zM1483 701h3v1h-3zM1489 701h3v1h-3zM1495 701h3v1h-3zM1501 701h3v1h-3zM1507 701h3v1h-3zM1513 701h3v1h-3zM1519 701h3v1h-3zM1525 701h3v1h-3zM1531 701h3v1h-3zM1537 701h3v1h-3zM1543 701h3v1h-3zM1549 701h3v1h-3zM1555 701h3v1h-3zM1561 701h3v1h-3zM1567 701h3v1h-3zM1573 701h3v1h-3zM1579 701h3v1h-3zM1585 701h3v1h-3zM1591 701h3v1h-3zM1597 701h3v1h-3zM1603 701h3v1h-3zM1609 701h3v1h-3zM1615 701h3v1h-3zM1621 701h3v1h-3zM1627 701h3v1h-3zM1633 701h3v1h-3zM1639 701h3v1h-3zM1645 701h3v1h-3zM1651 701h3v1h-3zM1657 701h3v1h-3zM1663 701h3v1h-3zM1669 701h3v1h-3zM1675 701h3v1h-3z" fill="#c0c0c0"/>
<path d="M1 743h3v1h-3zM7 743h3v1h-3zM13 743h3v1h-3zM19 743h3v1h-3zM25 743h3v1h-3zM31 743h3v1h-3zM37 743h3v1h-3zM43 743h3v1h-3zM49 743h3v1h-3zM55 743h3v1h-3zM61 743h3v1h-3zM67 743h3v1h-3zM73 743h3v1h-3zM79 743h3v1h-3zM85 743h3v1h-3zM91 743h3v1h-3zM97 743h3v1h-3zM103 743h3v1h-3zM109 743h3v1h-3zM115 743h3v1h-3zM121 743h3v1h-3zM127 743h3v1h-3zM133 743h3v1h-3zM139 743h3v1h-3zM145 743h3v1h-3zM151 743h3v1h-3zM157 743h3v1h-3zM163 743h3v1h-3zM169 743h3v1h-3zM175 743h3v1h-3zM181 743h3v1h-3zM187 743h3v1h-3zM193 743h3v1h-3zM199 743h3v1h-3zM205 743h3v1h-3zM211 743h3v1h-3zM217 743h3v1h-3zM223 743h3v1h-3zM229 743h3v1h-3zM235 743h3v1h-3zM241 743h3v1h-3zM247 743h3v1h-3zM253 743h3v1h-3zM259 743h3v1h-3zM265 743h3v1h-3zM271 743h3v1h-3zM277 743h3v1h-3zM283 743h3v1h-3zM289 743h3v1h-3zM295 743h3v1h-3zM301 743h3v1h-3zM307 743h3v1h-3zM313 743h3v1h-3zM319 743h3v1h-3zM325 743h3v1h-3zM331 743h3v1h-3zM337 743h3v1h-3zM343 743h3v1h-3zM349 743h3v1h-3zM355 743h3v1h-3zM361 743h3v1h-3zM367 743h3v1h-3zM373 743h3v1h-3zM379 743h3v1h-3zM385 743h3v1h-3zM391 743h3v1h-3zM397 743h3v1h-3zM403 743h3v1h-3zM409 743h3v1h-3zM415 743h3v1h-3zM421 743h3v1h-3zM427 743h3v1h-3zM433 743h3v1h-3zM439 743h3v1h-3zM445 743h3v1h-3zM451 743h3v1h-3zM457 743h3v1h-3zM463 743h3v1h-3zM469 743h3v1h-3zM475 743h3v1h-3zM481 743h3v1h-3zM487 743h3v1h-3zM493 743h3v1h-3zM499 743h3v1h-3zM505 743h3v1h-3zM511 743h3v1h-3zM517 743h3v1h-3zM523 743h3v1h-3zM529 743h3v1h-3zM535 743h3v1h-3zM541 743h3v1h-3zM547 743h3v1h-3zM553 743h3v1h-3zM559 743h3v1h-3zM565 743h3v1h-3zM571 743h3v1h-3zM577 743h3v1h-3zM583 743h3v1h-3zM589 743h3v1h-3zM595 743h3v1h-3zM601 743h3v1h-3zM607 743h3v1h-3zM613 743h3v1h-3zM619 743h3v1h-3zM625 743h3v1h-3zM631 743h3v1h-3zM637 743h3v1h-3zM643 743h3v1h-3zM649 743h3v1h-3zM655 743h3v1h-3zM661 743h3v1h-3zM667 743h3v1h-3zM673 743h3v1h-3zM679 743h3v1h-3zM685 743h3v1h-3zM691 743h3v1h-3zM697 743h3v1h-3zM703 743h3v1h-3zM709 743h3v1h-3zM715 743h3v1h-3zM721 743h3v1h-3zM727 743h3v1h-3zM733 743h3v1h-3zM739 743h3v1h-3zM745 743h3v1h-3zM751 743h3v1h-3zM757 743h3v1h-3zM763 743h3v1h-3zM769 743h3v1h-3zM775 743h3v1h-3zM781 743h3v1h-3zM787 743h3v1h-3zM793 743h3v1h-3zM799 743h3v1h-3zM805 743h3v1h-3zM811 743h3v1h-3zM817 743h3v1h-3zM823 743h3v1h-3zM829 743h3v1h-3zM835 743h3v1h-3zM841 743h3v1h-3zM847 743h3v1h-3zM853 743h3v1h-3zM859 743h3v1h-3zM865 743h3v1h-3zM871 743h3v1h-3zM877 743h3v1h-3zM883 743h3v1h-3zM889 743h3v1h-3zM895 743h3v1h-3zM901 743h3v1h-3zM907 743h3v1h-3zM913 743h3v1h-3zM919 743h3v1h-3zM925 743h3v1h-3zM931 743h3v1h-3zM937 743h3v1h-3zM943 743h3v1h-3zM949 743h3v1h-3zM955 743h3v1h-3zM961 743h3v1h-3zM967 743h3v1h-3zM973 743h3v1h-3zM979 743h3v1h-3zM985 743h3v1h-3zM991 743h3v1h-3zM997 743h3v1h-3zM1003 743h3v1h-3zM1009 743h3v1h-3zM1015 743h3v1h-3zM1021 743h3v1h-3zM1027 743h3v1h-3zM1033 743h3v1h-3zM1039 743h3v1h-3zM1045 743h3v1h-3zM1051 743h3v1h-3zM1057 743h3v1h-3zM1063 743h3v1h-3zM1069 743h3v1h-3zM1075 743h3v1h-3zM1081 743h3v1h-3zM1087 743h3v1h-3zM1093 743h3v1h-3zM1099 743h3v1h-3zM1105 743h3v1h-3zM1111 743h3v1h-3zM1117 743h3v1h-3zM1123 743h3v1h-3zM1129 743h3v1h-3zM1135 743h3v1h-3zM1141 743h3v1h-3zM1147 743h3v1h-3zM1153 743h3v1h-3zM1159 743h3v1h-3zM1165 743h3v1h-3zM1171 743h3v1h-3zM1177 743h3v1h-3zM1183 743h3v1h-3zM1189 743h3v1h-3zM1195 743h3v1h-3zM1201 743h3v1h-3zM1207 743h3v1h-3zM1213 743h3v1h-3zM1219 743h3v1h-3zM1225 743h3v1h-3zM1231 743h3v1h-3zM1237 743h3v1h-3zM1243 743h3v1h-3zM1249 743h3v1h-3zM1255 743h3v1h-3zM1261 743h3v1h-3zM1267 743h3v1h-3zM1273 743h3v1h-3zM1279 743h3v1h-3zM1285 743h3v1h-3zM1291 743h3v1h-3zM1297 743h3v1h-3zM1303 743h3v1h-3zM1309 743h3v1h-3zM1315 743h3v1h-3zM1321 743h3v1h-3zM1327 743h3v1h-3zM1333 743h3v1h-3zM1339 743h3v1h-3zM1345 743h3v1h-3zM1351 743h3v1h-3zM1357 743h3v1h-3zM1363 743h3v1h-3zM1369 743h3v1h-3zM1375 743h3v1h-3zM1381 743h3v1h-3zM1387 743h3v1h-3zM1393 743h3v1h-3zM1399 743h3v1h-3zM1405 743h3v1h-3zM1411 743h3v1h-3zM1417 743h3v1h-3zM1423 743h3v1h-3zM1429 743h3v1h-3zM1435 743h3v1h-3zM1441 743h3v1h-3zM1447 743h3v1h-3zM1453 743h3v1h-3zM1459 743h3v1h-3zM1465 743h3v1h-3zM1471 743h3v1h-3zM1477 743h3v1h-3zM1483 743h3v1h-3zM1489 743h3v1h-3zM1495 743h3v1h-3zM1501 743h3v1h-3zM1507 743h3v1h-3zM1513 743h3v1h-3zM1519 743h3v1h-3zM1525 743h3v1h-3zM1531 743h3v1h-3zM1537 743h3v1h-3zM1543 743h3v1h-3zM1549 743h3v1h-3zM1555 743h3v1h-3zM1561 743h3v1h-3zM1567 743h3v1h-3zM1573 743h3v1h-3zM1579 743h3v1h-3zM1585 743h3v1h-3zM1591 743h3v1h-3zM1597 743h3v1h-3zM1603 743h3v1h-3zM1609 743h3v1h-3zM1615 743h3v1h-3zM1621 743h3v1h-3zM1627 743h3v1h-3zM1633 743h3v1h-3zM1639 743h3v1h-3zM1645 743h3v1h-3zM1651 743h3v1h-3zM1657 743h3v1h-3zM1663 743h3v1h-3zM1669 743h3v1h-3zM1675 743h3v1h-3z" fill="#c0c0c0"/>
<path d="M1386 692h2v1h-2zM1388 693h2v1h-2zM1391 695h2v1h-2zM1407 695h2v1h-2zM1393 696h3v1h-3zM1405 696h2v1h-2zM1449 696h2v1h-2zM1396 697h4v1h-4zM1403 697h2v1h-2zM1412 697h2v1h-2zM1447 697h2v1h-2zM1451 697h3v1h-3zM1367 698h2v1h-2zM1370 698h2v1h-2zM1400 698h3v1h-3zM1445 698h2v1h-2zM1454 698h2v1h-2zM1302 699h4v1h-4zM1443 699h2v1h-2zM1456 699h6v1h-6zM1294 700h8v1h-8zM1364 700h2v1h-2zM1433 700h10v1h-10zM1462 700h4v1h-4zM72 701h2v1h-2zM1289 701h5v1h-5zM1362 701h2v1h-2zM1374 701h2v1h-2zM1417 701h2v1h-2zM1431 701h2v1h-2zM1466 701h2v1h-2zM68 702h4v1h-4zM74 702h2v1h-2zM1287 702h2v1h-2zM1308 702h2v1h-2zM1419 702h3v1h-3zM1429 702h2v1h-2zM64 703h4v1h-4zM76 703h2v1h-2zM424 703h4v1h-4zM982 703h5v1h-5zM1032 703h2v1h-2zM1359 703h2v1h-2zM1422 703h2v1h-2zM1427 703h2v1h-2zM1512 703h6v1h-6zM60 704h4v1h-4zM420 704h4v1h-4zM428 704h4v1h-4zM710 704h5v1h-5zM974 704h8v1h-8zM987 704h3v1h-3zM1028 704h4v1h-4zM1284 704h2v1h-2zM1424 704h3v1h-3zM1470 704h2v1h-2zM1508 704h4v1h-4zM1518 704h5v1h-5zM49 705h11v1h-11zM79 705h2v1h-2zM414 705h6v1h-6zM432 705h2v1h-2zM697 705h13v1h-13zM715 705h2v1h-2zM969 705h5v1h-5zM990 705h2v1h-2zM1017 705h11v1h-11zM1056 705h3v1h-3zM1088 705h2v1h-2zM1282 705h2v1h-2zM1334 705h6v1h-6zM1356 705h2v1h-2zM1504 705h4v1h-4zM1523 705h2v1h-2zM408 706h6v1h-6zM695 706h2v1h-2zM717 706h2v1h-2zM728 706h3v1h-3zM967 706h2v1h-2zM992 706h2v1h-2zM1052 706h4v1h-4zM1059 706h3v1h-3zM1072 706h4v1h-4zM1086 706h2v1h-2zM1272 706h10v1h-10zM1313 706h21v1h-21zM1340 706h4v1h-4zM1354 706h2v1h-2zM1473 706h2v1h-2zM1502 706h2v1h-2zM1525 706h2v1h-2zM404 707h4v1h-4zM719 707h2v1h-2zM724 707h4v1h-4zM731 707h3v1h-3zM744 707h2v1h-2zM793 707h3v1h-3zM942 707h13v1h-13zM1049 707h3v1h-3zM1062 707h2v1h-2zM1068 707h4v1h-4zM1076 707h4v1h-4zM1083 707h3v1h-3zM1256 707h6v1h-6zM1268 707h4v1h-4zM1344 707h10v1h-10zM1475 707h3v1h-3zM1499 707h3v1h-3zM1527 707h2v1h-2zM400 708h4v1h-4zM692 708h2v1h-2zM721 708h3v1h-3zM734 708h2v1h-2zM740 708h4v1h-4zM791 708h2v1h-2zM796 708h4v1h-4zM937 708h5v1h-5zM955 708h3v1h-3zM964 708h2v1h-2zM1064 708h4v1h-4zM1080 708h3v1h-3zM1252 708h4v1h-4zM1262 708h6v1h-6zM1478 708h2v1h-2zM1486 708h13v1h-13zM25 709h5v1h-5zM84 709h2v1h-2zM369 709h3v1h-3zM396 709h4v1h-4zM690 709h2v1h-2zM736 709h4v1h-4zM789 709h2v1h-2zM800 709h11v1h-11zM935 709h2v1h-2zM958 709h2v1h-2zM962 709h2v1h-2zM996 709h2v1h-2zM1012 709h2v1h-2zM1249 709h3v1h-3zM1480 709h6v1h-6zM23 710h2v1h-2zM30 710h5v1h-5zM367 710h2v1h-2zM372 710h4v1h-4zM390 710h6v1h-6zM787 710h2v1h-2zM811 710h2v1h-2zM960 710h2v1h-2zM1150 710h4v1h-4zM35 711h3v1h-3zM365 711h2v1h-2zM376 711h14v1h-14zM687 711h2v1h-2zM785 711h2v1h-2zM813 711h2v1h-2zM932 711h2v1h-2zM1145 711h5v1h-5zM1231 711h2v1h-2zM1234 711h2v1h-2zM1246 711h2v1h-2zM20 712h2v1h-2zM38 712h2v1h-2zM344 712h2v1h-2zM363 712h2v1h-2zM489 712h2v1h-2zM685 712h2v1h-2zM783 712h2v1h-2zM815 712h2v1h-2zM912 712h6v1h-6zM930 712h2v1h-2zM1006 712h4v1h-4zM1229 712h2v1h-2zM1236 712h2v1h-2zM18 713h2v1h-2zM40 713h2v1h-2zM342 713h2v1h-2zM346 713h2v1h-2zM361 713h2v1h-2zM487 713h2v1h-2zM491 713h2v1h-2zM683 713h2v1h-2zM768 713h4v1h-4zM781 713h2v1h-2zM817 713h5v1h-5zM830 713h5v1h-5zM910 713h2v1h-2zM918 713h12v1h-12zM1001 713h5v1h-5zM1177 713h2v1h-2zM1198 713h4v1h-4zM1227 713h2v1h-2zM1 714h2v1h-2zM16 714h2v1h-2zM90 714h2v1h-2zM339 714h3v1h-3zM359 714h2v1h-2zM456 714h4v1h-4zM485 714h2v1h-2zM493 714h2v1h-2zM680 714h3v1h-3zM766 714h2v1h-2zM772 714h4v1h-4zM779 714h2v1h-2zM822 714h8v1h-8zM835 714h3v1h-3zM907 714h3v1h-3zM1175 714h2v1h-2zM1179 714h3v1h-3zM1192 714h6v1h-6zM1202 714h2v1h-2zM1224 714h3v1h-3zM1239 714h2v1h-2zM1242 714h2v1h-2zM3 715h3v1h-3zM14 715h2v1h-2zM337 715h2v1h-2zM452 715h4v1h-4zM460 715h4v1h-4zM483 715h2v1h-2zM495 715h2v1h-2zM676 715h4v1h-4zM763 715h3v1h-3zM776 715h3v1h-3zM838 715h2v1h-2zM854 715h4v1h-4zM902 715h5v1h-5zM1097 715h18v1h-18zM1127 715h2v1h-2zM1173 715h2v1h-2zM1182 715h2v1h-2zM1188 715h4v1h-4zM1204 715h2v1h-2zM1222 715h2v1h-2zM6 716h2v1h-2zM11 716h3v1h-3zM244 716h2v1h-2zM280 716h10v1h-10zM335 716h2v1h-2zM350 716h2v1h-2zM356 716h2v1h-2zM449 716h3v1h-3zM464 716h3v1h-3zM481 716h2v1h-2zM672 716h4v1h-4zM758 716h5v1h-5zM840 716h14v1h-14zM897 716h5v1h-5zM1115 716h3v1h-3zM1125 716h2v1h-2zM1171 716h2v1h-2zM1184 716h4v1h-4zM1219 716h3v1h-3zM1537 716h2v1h-2zM8 717h3v1h-3zM94 717h2v1h-2zM278 717h2v1h-2zM290 717h2v1h-2zM333 717h2v1h-2zM354 717h2v1h-2zM447 717h2v1h-2zM467 717h2v1h-2zM479 717h2v1h-2zM668 717h4v1h-4zM753 717h5v1h-5zM895 717h2v1h-2zM1118 717h2v1h-2zM1123 717h2v1h-2zM1132 717h2v1h-2zM1168 717h3v1h-3zM1207 717h2v1h-2zM1214 717h5v1h-5zM1539 717h2v1h-2zM102 718h4v1h-4zM233 718h5v1h-5zM264 718h6v1h-6zM275 718h3v1h-3zM292 718h2v1h-2zM331 718h2v1h-2zM469 718h2v1h-2zM477 718h2v1h-2zM665 718h3v1h-3zM881 718h3v1h-3zM893 718h2v1h-2zM1120 718h3v1h-3zM1164 718h4v1h-4zM1209 718h5v1h-5zM1541 718h2v1h-2zM97 719h5v1h-5zM106 719h2v1h-2zM231 719h2v1h-2zM238 719h4v1h-4zM260 719h4v1h-4zM270 719h5v1h-5zM329 719h2v1h-2zM444 719h2v1h-2zM471 719h2v1h-2zM475 719h2v1h-2zM663 719h2v1h-2zM884 719h4v1h-4zM891 719h2v1h-2zM1161 719h3v1h-3zM1543 719h2v1h-2zM229 720h2v1h-2zM257 720h3v1h-3zM295 720h2v1h-2zM327 720h2v1h-2zM442 720h2v1h-2zM473 720h2v1h-2zM649 720h2v1h-2zM888 720h3v1h-3zM227 721h2v1h-2zM325 721h2v1h-2zM623 721h2v1h-2zM651 721h3v1h-3zM660 721h2v1h-2zM110 722h2v1h-2zM224 722h3v1h-3zM298 722h2v1h-2zM323 722h2v1h-2zM606 722h6v1h-6zM621 722h2v1h-2zM654 722h2v1h-2zM658 722h2v1h-2zM222 723h2v1h-2zM300 723h2v1h-2zM321 723h2v1h-2zM601 723h5v1h-5zM612 723h4v1h-4zM619 723h2v1h-2zM656 723h2v1h-2zM113 724h2v1h-2zM209 724h5v1h-5zM219 724h3v1h-3zM319 724h2v1h-2zM616 724h3v1h-3zM644 724h2v1h-2zM115 725h3v1h-3zM214 725h5v1h-5zM303 725h2v1h-2zM317 725h2v1h-2zM865 725h2v1h-2zM118 726h2v1h-2zM305 726h5v1h-5zM315 726h2v1h-2zM867 726h3v1h-3zM120 727h3v1h-3zM310 727h5v1h-5zM534 727h2v1h-2zM640 727h2v1h-2zM870 727h2v1h-2zM123 728h2v1h-2zM204 728h2v1h-2zM638 728h2v1h-2zM872 728h2v1h-2zM1553 728h2v1h-2zM125 729h2v1h-2zM136 729h3v1h-3zM635 729h3v1h-3zM1555 729h3v1h-3zM127 730h2v1h-2zM132 730h4v1h-4zM139 730h2v1h-2zM530 730h2v1h-2zM633 730h2v1h-2zM1558 730h2v1h-2zM129 731h3v1h-3zM141 731h2v1h-2zM200 731h2v1h-2zM521 731h9v1h-9zM1560 731h2v1h-2zM143 732h2v1h-2zM198 732h2v1h-2zM506 732h2v1h-2zM1562 732h2v1h-2zM145 733h13v1h-13zM177 733h5v1h-5zM195 733h3v1h-3zM518 733h2v1h-2zM158 734h4v1h-4zM182 734h13v1h-13zM510 735h2v1h-2zM558 735h8v1h-8zM1566 735h2v1h-2zM514 736h2v1h-2zM545 736h13v1h-13zM566 736h14v1h-14zM164 737h2v1h-2zM580 737h4v1h-4zM1569 737h2v1h-2zM584 738h6v1h-6zM1571 738h3v1h-3zM1625 738h5v1h-5zM590 739h4v1h-4zM1574 739h2v1h-2zM1623 739h2v1h-2zM1630 739h6v1h-6zM1576 740h2v1h-2zM1621 740h2v1h-2zM1636 740h4v1h-4zM1619 741h2v1h-2zM1640 741h11v1h-11zM1614 742h5v1h-5zM1651 742h2v1h-2zM1580 743h2v1h-2zM1609 743h5v1h-5zM1653 743h2v1h-2zM1607 744h2v1h-2zM1655 744h2v1h-2zM1605 745h2v1h-2zM1603 746h2v1h-2zM1601 747h2v1h-2zM22 711h1v1h-1zM42 712h1v1h-1zM43 711h1v1h-1zM44 710h1v1h-1zM45 709h1v1h-1zM46 708h1v1h-1zM47 707h1v1h-1zM48 706h1v1h-1zM78 704h1v1h-1zM81 706h1v1h-1zM82 707h1v1h-1zM83 708h1v1h-1zM86 710h1v1h-1zM87 711h1v1h-1zM88 712h1v1h-1zM89 713h1v1h-1zM92 715h1v1h-1zM93 716h1v1h-1zM96 718h1v1h-1zM108 720h1v1h-1zM109 721h1v1h-1zM112 723h1v1h-1zM162 735h1v1h-1zM163 736h1v1h-1zM166 738h1v1h-1zM167 739h1v1h-1zM168 740h1v1h-1zM169 741h1v1h-1zM170 740h1v1h-1zM171 739h1v1h-1zM172 738h1v1h-1zM173 737h1v1h-1zM174 736h1v1h-1zM175 735h1v1h-1zM176 734h1v1h-1zM202 730h1v1h-1zM203 729h1v1h-1zM206 727h1v1h-1zM207 726h1v1h-1zM208 725h1v1h-1zM242 718h1v1h-1zM243 717h1v1h-1zM246 715h1v1h-1zM247 714h1v1h-1zM248 713h1v1h-1zM249 712h1v1h-1zM250 713h1v1h-1zM251 714h1v1h-1zM252 715h1v1h-1zM253 716h1v1h-1zM254 717h1v1h-1zM255 718h1v1h-1zM256 719h1v1h-1zM294 719h1v1h-1zM297 721h1v1h-1zM302 724h1v1h-1zM348 714h1v1h-1zM349 715h1v1h-1zM352 717h1v1h-1zM353 718h1v1h-1zM358 715h1v1h-1zM433 706h1v1h-1zM434 707h1v2h-1zM435 709h1v2h-1zM436 711h1v2h-1zM437 713h1v2h-1zM438 715h1v2h-1zM439 717h1v2h-1zM440 719h1v2h-1zM441 721h1v1h-1zM446 718h1v1h-1zM497 716h1v1h-1zM498 717h1v2h-1zM499 719h1v2h-1zM500 721h1v2h-1zM501 723h1v2h-1zM502 725h1v2h-1zM503 727h1v2h-1zM504 729h1v2h-1zM505 731h1v1h-1zM508 733h1v1h-1zM509 734h1v1h-1zM512 736h1v1h-1zM513 737h1v1h-1zM516 735h1v1h-1zM517 734h1v1h-1zM520 732h1v1h-1zM532 729h1v1h-1zM533 728h1v1h-1zM536 726h1v1h-1zM537 725h1v1h-1zM538 726h1v2h-1zM539 728h1v1h-1zM540 729h1v1h-1zM541 730h1v2h-1zM542 732h1v1h-1zM543 733h1v1h-1zM544 734h1v2h-1zM593 738h1v1h-1zM594 736h1v2h-1zM595 734h1v2h-1zM596 732h1v2h-1zM597 730h1v2h-1zM598 728h1v2h-1zM599 726h1v2h-1zM600 724h1v2h-1zM625 720h1v1h-1zM626 721h1v1h-1zM627 722h1v2h-1zM628 724h1v1h-1zM629 725h1v1h-1zM630 726h1v1h-1zM631 727h1v2h-1zM632 729h1v1h-1zM642 726h1v1h-1zM643 725h1v1h-1zM646 723h1v1h-1zM647 722h1v1h-1zM648 721h1v1h-1zM662 720h1v1h-1zM689 710h1v1h-1zM694 707h1v1h-1zM746 708h1v1h-1zM747 709h1v2h-1zM748 711h1v1h-1zM749 712h1v1h-1zM750 713h1v1h-1zM751 714h1v2h-1zM752 716h1v1h-1zM858 716h1v1h-1zM859 717h1v2h-1zM860 719h1v1h-1zM861 720h1v1h-1zM862 721h1v1h-1zM863 722h1v2h-1zM864 724h1v1h-1zM874 727h1v1h-1zM875 725h1v2h-1zM876 724h1v1h-1zM877 723h1v1h-1zM878 722h1v1h-1zM879 720h1v2h-1zM880 719h1v1h-1zM934 710h1v1h-1zM966 707h1v1h-1zM994 707h1v1h-1zM995 708h1v1h-1zM998 710h1v1h-1zM999 711h1v1h-1zM1000 712h1v1h-1zM1010 711h1v1h-1zM1011 710h1v1h-1zM1014 708h1v1h-1zM1015 707h1v1h-1zM1016 706h1v1h-1zM1034 704h1v2h-1zM1035 706h1v2h-1zM1036 708h1v2h-1zM1037 710h1v1h-1zM1038 711h1v2h-1zM1039 713h1v2h-1zM1040 715h1v2h-1zM1041 717h1v1h-1zM1042 716h1v1h-1zM1043 714h1v2h-1zM1044 713h1v1h-1zM1045 712h1v1h-1zM1046 711h1v1h-1zM1047 709h1v2h-1zM1048 708h1v1h-1zM1090 706h1v1h-1zM1091 707h1v2h-1zM1092 709h1v1h-1zM1093 710h1v1h-1zM1094 711h1v1h-1zM1095 712h1v2h-1zM1096 714h1v1h-1zM1129 714h1v1h-1zM1130 715h1v1h-1zM1131 716h1v1h-1zM1134 718h1v1h-1zM1135 719h1v1h-1zM1136 720h1v1h-1zM1137 721h1v1h-1zM1138 720h1v1h-1zM1139 718h1v2h-1zM1140 717h1v1h-1zM1141 716h1v1h-1zM1142 715h1v1h-1zM1143 713h1v2h-1zM1144 712h1v1h-1zM1154 711h1v1h-1zM1155 712h1v1h-1zM1156 713h1v1h-1zM1157 714h1v2h-1zM1158 716h1v1h-1zM1159 717h1v1h-1zM1160 718h1v1h-1zM1206 716h1v1h-1zM1233 710h1v1h-1zM1238 713h1v1h-1zM1241 715h1v1h-1zM1244 713h1v1h-1zM1245 712h1v1h-1zM1248 710h1v1h-1zM1286 703h1v1h-1zM1306 700h1v1h-1zM1307 701h1v1h-1zM1310 703h1v1h-1zM1311 704h1v1h-1zM1312 705h1v1h-1zM1358 704h1v1h-1zM1361 702h1v1h-1zM1366 699h1v1h-1zM1369 697h1v1h-1zM1372 699h1v1h-1zM1373 700h1v1h-1zM1376 702h1v1h-1zM1377 703h1v1h-1zM1378 701h1v2h-1zM1379 700h1v1h-1zM1380 698h1v2h-1zM1381 697h1v1h-1zM1382 695h1v2h-1zM1383 694h1v1h-1zM1384 692h1v2h-1zM1385 691h1v1h-1zM1390 694h1v1h-1zM1409 694h1v1h-1zM1410 695h1v1h-1zM1411 696h1v1h-1zM1414 698h1v1h-1zM1415 699h1v1h-1zM1416 700h1v1h-1zM1468 702h1v1h-1zM1469 703h1v1h-1zM1472 705h1v1h-1zM1529 708h1v1h-1zM1530 709h1v1h-1zM1531 710h1v1h-1zM1532 711h1v1h-1zM1533 712h1v1h-1zM1534 713h1v1h-1zM1535 714h1v1h-1zM1536 715h1v1h-1zM1545 720h1v1h-1zM1546 721h1v1h-1zM1547 722h1v1h-1zM1548 723h1v1h-1zM1549 724h1v1h-1zM1550 725h1v1h-1zM1551 726h1v1h-1zM1552 727h1v1h-1zM1564 733h1v1h-1zM1565 734h1v1h-1zM1568 736h1v1h-1zM1578 741h1v1h-1zM1579 742h1v1h-1zM1582 744h1v1h-1zM1583 745h1v1h-1zM1584 746h1v1h-1zM1585 747h1v1h-1zM1586 748h1v1h-1zM1587 749h1v1h-1zM1588 750h1v1h-1zM1589 751h1v1h-1zM1590 752h1v1h-1zM1591 753h1v1h-1zM1592 754h1v1h-1zM1593 755h1v1h-1zM1594 754h1v1h-1zM1595 753h1v1h-1zM1596 752h1v1h-1zM1597 751h1v1h-1zM1598 750h1v1h-1zM1599 749h1v1h-1zM1600 748h1v1h-1zM1657 745h1v1h-1z" fill="#1e90ff"/>
</g>
<text x="5" y="682" font-size="9.5" fill="#000" stroke="#000" stroke-width="0.13"  textLength="69" lengthAdjust="spacingAndGlyphs">RSI(14) 26.4561</text>
<rect x="1677" y="671" width="1" height="1" fill="#000"/>
<rect x="1677" y="701" width="2" height="1" fill="#000"/>
<rect x="1677" y="743" width="2" height="1" fill="#000"/>
<rect x="1677" y="772" width="1" height="1" fill="#000"/>
<text x="1680" y="680" font-size="9.5" fill="#000" stroke="#000" stroke-width="0.13"  textLength="15" lengthAdjust="spacingAndGlyphs">100</text>
<text x="1680" y="705" font-size="9.5" fill="#000" stroke="#000" stroke-width="0.13"  textLength="10" lengthAdjust="spacingAndGlyphs">70</text>
<text x="1680" y="747" font-size="9.5" fill="#000" stroke="#000" stroke-width="0.13"  textLength="10" lengthAdjust="spacingAndGlyphs">30</text>
<text x="1680" y="771" font-size="9.5" fill="#000" stroke="#000" stroke-width="0.13"  textLength="5" lengthAdjust="spacingAndGlyphs">0</text>
<rect x="1" y="774" width="1" height="3" fill="#000"/>
<text x="1" y="787" font-size="9.5" fill="#000" stroke="#000" stroke-width="0.13"  textLength="50" lengthAdjust="spacingAndGlyphs">28 Apr 2020</text>
<rect x="65" y="774" width="1" height="3" fill="#000"/>
<text x="65" y="787" font-size="9.5" fill="#000" stroke="#000" stroke-width="0.13"  textLength="53" lengthAdjust="spacingAndGlyphs">29 Apr 20:00</text>
<rect x="129" y="774" width="1" height="3" fill="#000"/>
<text x="129" y="787" font-size="9.5" fill="#000" stroke="#000" stroke-width="0.13"  textLength="52" lengthAdjust="spacingAndGlyphs">1 May 04:00</text>
<rect x="193" y="774" width="1" height="3" fill="#000"/>
<text x="193" y="787" font-size="9.5" fill="#000" stroke="#000" stroke-width="0.13"  textLength="52" lengthAdjust="spacingAndGlyphs">4 May 08:00</text>
<rect x="257" y="774" width="1" height="3" fill="#000"/>
<text x="257" y="787" font-size="9.5" fill="#000" stroke="#000" stroke-width="0.13"  textLength="52" lengthAdjust="spacingAndGlyphs">5 May 16:00</text>
<rect x="321" y="774" width="1" height="3" fill="#000"/>
<text x="321" y="787" font-size="9.5" fill="#000" stroke="#000" stroke-width="0.13"  textLength="52" lengthAdjust="spacingAndGlyphs">7 May 00:00</text>
<rect x="385" y="774" width="1" height="3" fill="#000"/>
<text x="385" y="787" font-size="9.5" fill="#000" stroke="#000" stroke-width="0.13"  textLength="52" lengthAdjust="spacingAndGlyphs">8 May 08:00</text>
<rect x="449" y="774" width="1" height="3" fill="#000"/>
<text x="449" y="787" font-size="9.5" fill="#000" stroke="#000" stroke-width="0.13"  textLength="57" lengthAdjust="spacingAndGlyphs">11 May 12:00</text>
<rect x="513" y="774" width="1" height="3" fill="#000"/>
<text x="513" y="787" font-size="9.5" fill="#000" stroke="#000" stroke-width="0.13"  textLength="57" lengthAdjust="spacingAndGlyphs">12 May 20:00</text>
<rect x="577" y="774" width="1" height="3" fill="#000"/>
<text x="577" y="787" font-size="9.5" fill="#000" stroke="#000" stroke-width="0.13"  textLength="57" lengthAdjust="spacingAndGlyphs">14 May 04:00</text>
<rect x="641" y="774" width="1" height="3" fill="#000"/>
<text x="641" y="787" font-size="9.5" fill="#000" stroke="#000" stroke-width="0.13"  textLength="57" lengthAdjust="spacingAndGlyphs">15 May 12:00</text>
<rect x="705" y="774" width="1" height="3" fill="#000"/>
<text x="705" y="787" font-size="9.5" fill="#000" stroke="#000" stroke-width="0.13"  textLength="57" lengthAdjust="spacingAndGlyphs">18 May 16:00</text>
<rect x="769" y="774" width="1" height="3" fill="#000"/>
<text x="769" y="787" font-size="9.5" fill="#000" stroke="#000" stroke-width="0.13"  textLength="57" lengthAdjust="spacingAndGlyphs">20 May 00:00</text>
<rect x="833" y="774" width="1" height="3" fill="#000"/>
<text x="833" y="787" font-size="9.5" fill="#000" stroke="#000" stroke-width="0.13"  textLength="57" lengthAdjust="spacingAndGlyphs">21 May 08:00</text>
<rect x="897" y="774" width="1" height="3" fill="#000"/>
<text x="897" y="787" font-size="9.5" fill="#000" stroke="#000" stroke-width="0.13"  textLength="57" lengthAdjust="spacingAndGlyphs">22 May 16:00</text>
<rect x="961" y="774" width="1" height="3" fill="#000"/>
<text x="961" y="787" font-size="9.5" fill="#000" stroke="#000" stroke-width="0.13"  textLength="57" lengthAdjust="spacingAndGlyphs">25 May 22:00</text>
<rect x="1025" y="774" width="1" height="3" fill="#000"/>
<text x="1025" y="787" font-size="9.5" fill="#000" stroke="#000" stroke-width="0.13"  textLength="57" lengthAdjust="spacingAndGlyphs">27 May 04:00</text>
<rect x="1089" y="774" width="1" height="3" fill="#000"/>
<text x="1089" y="787" font-size="9.5" fill="#000" stroke="#000" stroke-width="0.13"  textLength="57" lengthAdjust="spacingAndGlyphs">28 May 12:00</text>
<rect x="1153" y="774" width="1" height="3" fill="#000"/>
<text x="1153" y="787" font-size="9.5" fill="#000" stroke="#000" stroke-width="0.13"  textLength="57" lengthAdjust="spacingAndGlyphs">29 May 20:00</text>
<rect x="1217" y="774" width="1" height="3" fill="#000"/>
<text x="1217" y="787" font-size="9.5" fill="#000" stroke="#000" stroke-width="0.13"  textLength="48" lengthAdjust="spacingAndGlyphs">2 Jun 00:00</text>
<rect x="1281" y="774" width="1" height="3" fill="#000"/>
<text x="1281" y="787" font-size="9.5" fill="#000" stroke="#000" stroke-width="0.13"  textLength="48" lengthAdjust="spacingAndGlyphs">3 Jun 08:00</text>
<rect x="1345" y="774" width="1" height="3" fill="#000"/>
<text x="1345" y="787" font-size="9.5" fill="#000" stroke="#000" stroke-width="0.13"  textLength="48" lengthAdjust="spacingAndGlyphs">4 Jun 16:00</text>
<rect x="1409" y="774" width="1" height="3" fill="#000"/>
<text x="1409" y="787" font-size="9.5" fill="#000" stroke="#000" stroke-width="0.13"  textLength="48" lengthAdjust="spacingAndGlyphs">7 Jun 23:00</text>
<rect x="1473" y="774" width="1" height="3" fill="#000"/>
<text x="1473" y="787" font-size="9.5" fill="#000" stroke="#000" stroke-width="0.13"  textLength="48" lengthAdjust="spacingAndGlyphs">9 Jun 04:00</text>
<rect x="1537" y="774" width="1" height="3" fill="#000"/>
<text x="1537" y="787" font-size="9.5" fill="#000" stroke="#000" stroke-width="0.13"  textLength="53" lengthAdjust="spacingAndGlyphs">10 Jun 12:00</text>
<rect x="1601" y="774" width="1" height="3" fill="#000"/>
<text x="1601" y="787" font-size="9.5" fill="#000" stroke="#000" stroke-width="0.13"  textLength="53" lengthAdjust="spacingAndGlyphs">11 Jun 20:00</text>
</svg></body></html>
